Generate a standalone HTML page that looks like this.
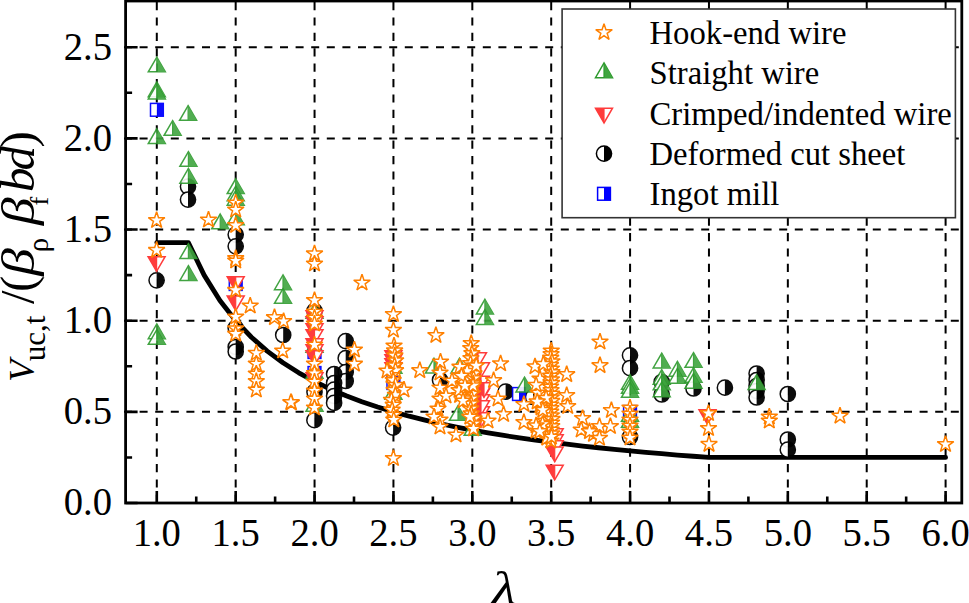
<!DOCTYPE html><html><head><meta charset="utf-8"><style>html,body{margin:0;padding:0;background:#fff;overflow:hidden}svg{display:block}text{font-family:"Liberation Serif",serif}</style></head><body>
<svg width="969" height="603" viewBox="0 0 969 603">
<rect width="969" height="603" fill="#fff"/>
<defs><clipPath id="pc"><rect x="125.6" y="1.0" width="836.2" height="502.0"/></clipPath></defs>
<g stroke="#000" stroke-width="2" fill="none"><line x1="156.80" y1="2" x2="156.80" y2="503.00" stroke-dasharray="8.2 7.2"/><line x1="235.68" y1="2" x2="235.68" y2="503.00" stroke-dasharray="8.2 7.2"/><line x1="314.56" y1="2" x2="314.56" y2="503.00" stroke-dasharray="8.2 7.2"/><line x1="393.44" y1="2" x2="393.44" y2="503.00" stroke-dasharray="8.2 7.2"/><line x1="472.32" y1="2" x2="472.32" y2="503.00" stroke-dasharray="8.2 7.2"/><line x1="551.20" y1="2" x2="551.20" y2="503.00" stroke-dasharray="8.2 7.2"/><line x1="630.08" y1="2" x2="630.08" y2="503.00" stroke-dasharray="8.2 7.2"/><line x1="708.96" y1="2" x2="708.96" y2="503.00" stroke-dasharray="8.2 7.2"/><line x1="787.84" y1="2" x2="787.84" y2="503.00" stroke-dasharray="8.2 7.2"/><line x1="866.72" y1="2" x2="866.72" y2="503.00" stroke-dasharray="8.2 7.2"/><line x1="945.60" y1="2" x2="945.60" y2="503.00" stroke-dasharray="8.2 7.2"/><line x1="124.0" y1="411.85" x2="961.80" y2="411.85" stroke-dasharray="8 7.6"/><line x1="124.0" y1="320.70" x2="961.80" y2="320.70" stroke-dasharray="8 7.6"/><line x1="124.0" y1="229.55" x2="961.80" y2="229.55" stroke-dasharray="8 7.6"/><line x1="124.0" y1="138.40" x2="961.80" y2="138.40" stroke-dasharray="8 7.6"/><line x1="124.0" y1="47.25" x2="961.80" y2="47.25" stroke-dasharray="8 7.6"/></g>
<path d="M156.80,242.57 L188.35,242.57 L204.13,275.12 L219.90,300.44 L235.68,320.70 L251.46,337.27 L267.23,351.08 L283.01,362.77 L298.78,372.79 L314.56,381.47 L330.34,389.06 L346.11,395.76 L361.89,401.72 L377.66,407.05 L393.44,411.85 L409.22,416.19 L424.99,420.14 L440.77,423.74 L456.54,427.04 L472.32,430.08 L488.10,432.88 L503.87,435.48 L519.65,437.89 L535.42,440.14 L551.20,442.23 L566.98,444.19 L582.75,446.03 L598.53,447.76 L614.30,449.38 L630.08,450.91 L645.86,452.36 L661.63,453.73 L677.41,455.03 L693.18,456.26 L708.96,457.43 L708.96,457.43 L945.60,457.43" stroke="#000" stroke-width="4.8" fill="none" stroke-linejoin="round" stroke-linecap="round"/>
<g clip-path="url(#pc)"><g opacity="0.95"><circle cx="188.00" cy="186.60" r="7.6" fill="#fff" stroke="#000" stroke-width="1.5"/><path d="M188.00,179.00A7.6,7.6 0 0 1 188.00,194.20Z" fill="#000"/></g><g opacity="0.95"><circle cx="188.00" cy="199.60" r="7.6" fill="#fff" stroke="#000" stroke-width="1.5"/><path d="M188.00,192.00A7.6,7.6 0 0 1 188.00,207.20Z" fill="#000"/></g><g opacity="0.95"><circle cx="156.60" cy="280.30" r="7.6" fill="#fff" stroke="#000" stroke-width="1.5"/><path d="M156.60,272.70A7.6,7.6 0 0 1 156.60,287.90Z" fill="#000"/></g><g opacity="0.95"><circle cx="235.70" cy="234.60" r="7.6" fill="#fff" stroke="#000" stroke-width="1.5"/><path d="M235.70,227.00A7.6,7.6 0 0 1 235.70,242.20Z" fill="#000"/></g><g opacity="0.95"><circle cx="235.70" cy="246.30" r="7.6" fill="#fff" stroke="#000" stroke-width="1.5"/><path d="M235.70,238.70A7.6,7.6 0 0 1 235.70,253.90Z" fill="#000"/></g><g opacity="0.95"><circle cx="235.70" cy="328.00" r="7.6" fill="#fff" stroke="#000" stroke-width="1.5"/><path d="M235.70,320.40A7.6,7.6 0 0 1 235.70,335.60Z" fill="#000"/></g><g opacity="0.95"><circle cx="235.70" cy="347.00" r="7.6" fill="#fff" stroke="#000" stroke-width="1.5"/><path d="M235.70,339.40A7.6,7.6 0 0 1 235.70,354.60Z" fill="#000"/></g><g opacity="0.95"><circle cx="235.70" cy="351.50" r="7.6" fill="#fff" stroke="#000" stroke-width="1.5"/><path d="M235.70,343.90A7.6,7.6 0 0 1 235.70,359.10Z" fill="#000"/></g><g opacity="0.95"><circle cx="314.50" cy="311.00" r="7.6" fill="#fff" stroke="#000" stroke-width="1.5"/><path d="M314.50,303.40A7.6,7.6 0 0 1 314.50,318.60Z" fill="#000"/></g><g opacity="0.95"><circle cx="314.50" cy="392.00" r="7.6" fill="#fff" stroke="#000" stroke-width="1.5"/><path d="M314.50,384.40A7.6,7.6 0 0 1 314.50,399.60Z" fill="#000"/></g><g opacity="0.95"><circle cx="314.40" cy="420.20" r="7.6" fill="#fff" stroke="#000" stroke-width="1.5"/><path d="M314.40,412.60A7.6,7.6 0 0 1 314.40,427.80Z" fill="#000"/></g><g opacity="0.95"><circle cx="283.20" cy="335.00" r="7.6" fill="#fff" stroke="#000" stroke-width="1.5"/><path d="M283.20,327.40A7.6,7.6 0 0 1 283.20,342.60Z" fill="#000"/></g><g opacity="0.95"><circle cx="345.70" cy="341.10" r="7.6" fill="#fff" stroke="#000" stroke-width="1.5"/><path d="M345.70,333.50A7.6,7.6 0 0 1 345.70,348.70Z" fill="#000"/></g><g opacity="0.95"><circle cx="345.70" cy="358.20" r="7.6" fill="#fff" stroke="#000" stroke-width="1.5"/><path d="M345.70,350.60A7.6,7.6 0 0 1 345.70,365.80Z" fill="#000"/></g><g opacity="0.95"><circle cx="345.70" cy="372.00" r="7.6" fill="#fff" stroke="#000" stroke-width="1.5"/><path d="M345.70,364.40A7.6,7.6 0 0 1 345.70,379.60Z" fill="#000"/></g><g opacity="0.95"><circle cx="345.70" cy="381.00" r="7.6" fill="#fff" stroke="#000" stroke-width="1.5"/><path d="M345.70,373.40A7.6,7.6 0 0 1 345.70,388.60Z" fill="#000"/></g><g opacity="0.95"><circle cx="334.10" cy="374.00" r="7.6" fill="#fff" stroke="#000" stroke-width="1.5"/><path d="M334.10,366.40A7.6,7.6 0 0 1 334.10,381.60Z" fill="#000"/></g><g opacity="0.95"><circle cx="334.10" cy="383.00" r="7.6" fill="#fff" stroke="#000" stroke-width="1.5"/><path d="M334.10,375.40A7.6,7.6 0 0 1 334.10,390.60Z" fill="#000"/></g><g opacity="0.95"><circle cx="334.10" cy="389.60" r="7.6" fill="#fff" stroke="#000" stroke-width="1.5"/><path d="M334.10,382.00A7.6,7.6 0 0 1 334.10,397.20Z" fill="#000"/></g><g opacity="0.95"><circle cx="334.10" cy="396.00" r="7.6" fill="#fff" stroke="#000" stroke-width="1.5"/><path d="M334.10,388.40A7.6,7.6 0 0 1 334.10,403.60Z" fill="#000"/></g><g opacity="0.95"><circle cx="334.10" cy="402.90" r="7.6" fill="#fff" stroke="#000" stroke-width="1.5"/><path d="M334.10,395.30A7.6,7.6 0 0 1 334.10,410.50Z" fill="#000"/></g><g opacity="0.95"><circle cx="393.10" cy="427.60" r="7.6" fill="#fff" stroke="#000" stroke-width="1.5"/><path d="M393.10,420.00A7.6,7.6 0 0 1 393.10,435.20Z" fill="#000"/></g><g opacity="0.95"><circle cx="440.00" cy="380.00" r="7.6" fill="#fff" stroke="#000" stroke-width="1.5"/><path d="M440.00,372.40A7.6,7.6 0 0 1 440.00,387.60Z" fill="#000"/></g><g opacity="0.95"><circle cx="505.60" cy="391.60" r="7.6" fill="#fff" stroke="#000" stroke-width="1.5"/><path d="M505.60,384.00A7.6,7.6 0 0 1 505.60,399.20Z" fill="#000"/></g><g opacity="0.95"><circle cx="533.00" cy="397.00" r="7.6" fill="#fff" stroke="#000" stroke-width="1.5"/><path d="M533.00,389.40A7.6,7.6 0 0 1 533.00,404.60Z" fill="#000"/></g><g opacity="0.95"><circle cx="630.00" cy="355.30" r="7.6" fill="#fff" stroke="#000" stroke-width="1.5"/><path d="M630.00,347.70A7.6,7.6 0 0 1 630.00,362.90Z" fill="#000"/></g><g opacity="0.95"><circle cx="630.00" cy="368.20" r="7.6" fill="#fff" stroke="#000" stroke-width="1.5"/><path d="M630.00,360.60A7.6,7.6 0 0 1 630.00,375.80Z" fill="#000"/></g><g opacity="0.95"><circle cx="661.70" cy="382.00" r="7.6" fill="#fff" stroke="#000" stroke-width="1.5"/><path d="M661.70,374.40A7.6,7.6 0 0 1 661.70,389.60Z" fill="#000"/></g><g opacity="0.95"><circle cx="661.70" cy="394.50" r="7.6" fill="#fff" stroke="#000" stroke-width="1.5"/><path d="M661.70,386.90A7.6,7.6 0 0 1 661.70,402.10Z" fill="#000"/></g><g opacity="0.95"><circle cx="693.50" cy="388.50" r="7.6" fill="#fff" stroke="#000" stroke-width="1.5"/><path d="M693.50,380.90A7.6,7.6 0 0 1 693.50,396.10Z" fill="#000"/></g><g opacity="0.95"><circle cx="724.90" cy="387.70" r="7.6" fill="#fff" stroke="#000" stroke-width="1.5"/><path d="M724.90,380.10A7.6,7.6 0 0 1 724.90,395.30Z" fill="#000"/></g><g opacity="0.95"><circle cx="756.60" cy="373.50" r="7.6" fill="#fff" stroke="#000" stroke-width="1.5"/><path d="M756.60,365.90A7.6,7.6 0 0 1 756.60,381.10Z" fill="#000"/></g><g opacity="0.95"><circle cx="756.60" cy="380.00" r="7.6" fill="#fff" stroke="#000" stroke-width="1.5"/><path d="M756.60,372.40A7.6,7.6 0 0 1 756.60,387.60Z" fill="#000"/></g><g opacity="0.95"><circle cx="756.60" cy="386.00" r="7.6" fill="#fff" stroke="#000" stroke-width="1.5"/><path d="M756.60,378.40A7.6,7.6 0 0 1 756.60,393.60Z" fill="#000"/></g><g opacity="0.95"><circle cx="756.60" cy="391.00" r="7.6" fill="#fff" stroke="#000" stroke-width="1.5"/><path d="M756.60,383.40A7.6,7.6 0 0 1 756.60,398.60Z" fill="#000"/></g><g opacity="0.95"><circle cx="756.60" cy="397.50" r="7.6" fill="#fff" stroke="#000" stroke-width="1.5"/><path d="M756.60,389.90A7.6,7.6 0 0 1 756.60,405.10Z" fill="#000"/></g><g opacity="0.95"><circle cx="787.80" cy="394.00" r="7.6" fill="#fff" stroke="#000" stroke-width="1.5"/><path d="M787.80,386.40A7.6,7.6 0 0 1 787.80,401.60Z" fill="#000"/></g><g opacity="0.95"><circle cx="787.80" cy="439.50" r="7.6" fill="#fff" stroke="#000" stroke-width="1.5"/><path d="M787.80,431.90A7.6,7.6 0 0 1 787.80,447.10Z" fill="#000"/></g><g opacity="0.95"><circle cx="787.80" cy="449.70" r="7.6" fill="#fff" stroke="#000" stroke-width="1.5"/><path d="M787.80,442.10A7.6,7.6 0 0 1 787.80,457.30Z" fill="#000"/></g><g opacity="0.95"><circle cx="630.00" cy="437.00" r="7.6" fill="#fff" stroke="#000" stroke-width="1.5"/><path d="M630.00,429.40A7.6,7.6 0 0 1 630.00,444.60Z" fill="#000"/></g><g opacity="0.95"><rect x="150.50" y="103.40" width="12.8" height="12.8" fill="#fff" stroke="#0000FF" stroke-width="1.5"/><rect x="156.90" y="103.40" width="6.40" height="12.8" fill="#0000FF"/></g><g opacity="0.95"><rect x="229.30" y="277.60" width="12.8" height="12.8" fill="#fff" stroke="#0000FF" stroke-width="1.5"/><rect x="235.70" y="277.60" width="6.40" height="12.8" fill="#0000FF"/></g><g opacity="0.95"><rect x="308.10" y="345.60" width="12.8" height="12.8" fill="#fff" stroke="#0000FF" stroke-width="1.5"/><rect x="314.50" y="345.60" width="6.40" height="12.8" fill="#0000FF"/></g><g opacity="0.95"><rect x="308.10" y="366.60" width="12.8" height="12.8" fill="#fff" stroke="#0000FF" stroke-width="1.5"/><rect x="314.50" y="366.60" width="6.40" height="12.8" fill="#0000FF"/></g><g opacity="0.95"><rect x="387.00" y="376.60" width="12.8" height="12.8" fill="#fff" stroke="#0000FF" stroke-width="1.5"/><rect x="393.40" y="376.60" width="6.40" height="12.8" fill="#0000FF"/></g><g opacity="0.95"><rect x="512.60" y="387.60" width="12.8" height="12.8" fill="#fff" stroke="#0000FF" stroke-width="1.5"/><rect x="519.00" y="387.60" width="6.40" height="12.8" fill="#0000FF"/></g><g opacity="0.95"><rect x="623.60" y="405.60" width="12.8" height="12.8" fill="#fff" stroke="#0000FF" stroke-width="1.5"/><rect x="630.00" y="405.60" width="6.40" height="12.8" fill="#0000FF"/></g><g opacity="0.9"><path d="M156.80,57.15L165.30,71.85L148.30,71.85Z" fill="#fff" stroke="#2E9A2E" stroke-width="1.5"/><path d="M156.80,57.15L165.30,71.85L156.80,71.85Z" fill="#3FA53F"/><path d="M156.80,57.15V71.85" stroke="#2E9A2E" stroke-width="1.2"/></g><g opacity="0.9"><path d="M156.80,81.95L165.30,96.65L148.30,96.65Z" fill="#fff" stroke="#2E9A2E" stroke-width="1.5"/><path d="M156.80,81.95L165.30,96.65L156.80,96.65Z" fill="#3FA53F"/><path d="M156.80,81.95V96.65" stroke="#2E9A2E" stroke-width="1.2"/></g><g opacity="0.9"><path d="M156.80,84.25L165.30,98.95L148.30,98.95Z" fill="#fff" stroke="#2E9A2E" stroke-width="1.5"/><path d="M156.80,84.25L165.30,98.95L156.80,98.95Z" fill="#3FA53F"/><path d="M156.80,84.25V98.95" stroke="#2E9A2E" stroke-width="1.2"/></g><g opacity="0.9"><path d="M188.10,105.65L196.60,120.35L179.60,120.35Z" fill="#fff" stroke="#2E9A2E" stroke-width="1.5"/><path d="M188.10,105.65L196.60,120.35L188.10,120.35Z" fill="#3FA53F"/><path d="M188.10,105.65V120.35" stroke="#2E9A2E" stroke-width="1.2"/></g><g opacity="0.9"><path d="M172.60,120.65L181.10,135.35L164.10,135.35Z" fill="#fff" stroke="#2E9A2E" stroke-width="1.5"/><path d="M172.60,120.65L181.10,135.35L172.60,135.35Z" fill="#3FA53F"/><path d="M172.60,120.65V135.35" stroke="#2E9A2E" stroke-width="1.2"/></g><g opacity="0.9"><path d="M156.80,128.85L165.30,143.55L148.30,143.55Z" fill="#fff" stroke="#2E9A2E" stroke-width="1.5"/><path d="M156.80,128.85L165.30,143.55L156.80,143.55Z" fill="#3FA53F"/><path d="M156.80,128.85V143.55" stroke="#2E9A2E" stroke-width="1.2"/></g><g opacity="0.9"><path d="M188.40,151.65L196.90,166.35L179.90,166.35Z" fill="#fff" stroke="#2E9A2E" stroke-width="1.5"/><path d="M188.40,151.65L196.90,166.35L188.40,166.35Z" fill="#3FA53F"/><path d="M188.40,151.65V166.35" stroke="#2E9A2E" stroke-width="1.2"/></g><g opacity="0.9"><path d="M188.40,168.45L196.90,183.15L179.90,183.15Z" fill="#fff" stroke="#2E9A2E" stroke-width="1.5"/><path d="M188.40,168.45L196.90,183.15L188.40,183.15Z" fill="#3FA53F"/><path d="M188.40,168.45V183.15" stroke="#2E9A2E" stroke-width="1.2"/></g><g opacity="0.9"><path d="M220.20,214.05L228.70,228.75L211.70,228.75Z" fill="#fff" stroke="#2E9A2E" stroke-width="1.5"/><path d="M220.20,214.05L228.70,228.75L220.20,228.75Z" fill="#3FA53F"/><path d="M220.20,214.05V228.75" stroke="#2E9A2E" stroke-width="1.2"/></g><g opacity="0.9"><path d="M188.40,243.75L196.90,258.45L179.90,258.45Z" fill="#fff" stroke="#2E9A2E" stroke-width="1.5"/><path d="M188.40,243.75L196.90,258.45L188.40,258.45Z" fill="#3FA53F"/><path d="M188.40,243.75V258.45" stroke="#2E9A2E" stroke-width="1.2"/></g><g opacity="0.9"><path d="M188.40,265.75L196.90,280.45L179.90,280.45Z" fill="#fff" stroke="#2E9A2E" stroke-width="1.5"/><path d="M188.40,265.75L196.90,280.45L188.40,280.45Z" fill="#3FA53F"/><path d="M188.40,265.75V280.45" stroke="#2E9A2E" stroke-width="1.2"/></g><g opacity="0.9"><path d="M156.80,323.95L165.30,338.65L148.30,338.65Z" fill="#fff" stroke="#2E9A2E" stroke-width="1.5"/><path d="M156.80,323.95L165.30,338.65L156.80,338.65Z" fill="#3FA53F"/><path d="M156.80,323.95V338.65" stroke="#2E9A2E" stroke-width="1.2"/></g><g opacity="0.9"><path d="M156.80,329.65L165.30,344.35L148.30,344.35Z" fill="#fff" stroke="#2E9A2E" stroke-width="1.5"/><path d="M156.80,329.65L165.30,344.35L156.80,344.35Z" fill="#3FA53F"/><path d="M156.80,329.65V344.35" stroke="#2E9A2E" stroke-width="1.2"/></g><g opacity="0.9"><path d="M235.70,178.85L244.20,193.55L227.20,193.55Z" fill="#fff" stroke="#2E9A2E" stroke-width="1.5"/><path d="M235.70,178.85L244.20,193.55L235.70,193.55Z" fill="#3FA53F"/><path d="M235.70,178.85V193.55" stroke="#2E9A2E" stroke-width="1.2"/></g><g opacity="0.9"><path d="M235.70,186.15L244.20,200.85L227.20,200.85Z" fill="#fff" stroke="#2E9A2E" stroke-width="1.5"/><path d="M235.70,186.15L244.20,200.85L235.70,200.85Z" fill="#3FA53F"/><path d="M235.70,186.15V200.85" stroke="#2E9A2E" stroke-width="1.2"/></g><g opacity="0.9"><path d="M235.70,190.45L244.20,205.15L227.20,205.15Z" fill="#fff" stroke="#2E9A2E" stroke-width="1.5"/><path d="M235.70,190.45L244.20,205.15L235.70,205.15Z" fill="#3FA53F"/><path d="M235.70,190.45V205.15" stroke="#2E9A2E" stroke-width="1.2"/></g><g opacity="0.9"><path d="M235.70,210.15L244.20,224.85L227.20,224.85Z" fill="#fff" stroke="#2E9A2E" stroke-width="1.5"/><path d="M235.70,210.15L244.20,224.85L235.70,224.85Z" fill="#3FA53F"/><path d="M235.70,210.15V224.85" stroke="#2E9A2E" stroke-width="1.2"/></g><g opacity="0.9"><path d="M283.00,274.95L291.50,289.65L274.50,289.65Z" fill="#fff" stroke="#2E9A2E" stroke-width="1.5"/><path d="M283.00,274.95L291.50,289.65L283.00,289.65Z" fill="#3FA53F"/><path d="M283.00,274.95V289.65" stroke="#2E9A2E" stroke-width="1.2"/></g><g opacity="0.9"><path d="M283.00,288.65L291.50,303.35L274.50,303.35Z" fill="#fff" stroke="#2E9A2E" stroke-width="1.5"/><path d="M283.00,288.65L291.50,303.35L283.00,303.35Z" fill="#3FA53F"/><path d="M283.00,288.65V303.35" stroke="#2E9A2E" stroke-width="1.2"/></g><g opacity="0.9"><path d="M314.50,303.65L323.00,318.35L306.00,318.35Z" fill="#fff" stroke="#2E9A2E" stroke-width="1.5"/><path d="M314.50,303.65L323.00,318.35L314.50,318.35Z" fill="#3FA53F"/><path d="M314.50,303.65V318.35" stroke="#2E9A2E" stroke-width="1.2"/></g><g opacity="0.9"><path d="M314.50,337.65L323.00,352.35L306.00,352.35Z" fill="#fff" stroke="#2E9A2E" stroke-width="1.5"/><path d="M314.50,337.65L323.00,352.35L314.50,352.35Z" fill="#3FA53F"/><path d="M314.50,337.65V352.35" stroke="#2E9A2E" stroke-width="1.2"/></g><g opacity="0.9"><path d="M314.50,363.65L323.00,378.35L306.00,378.35Z" fill="#fff" stroke="#2E9A2E" stroke-width="1.5"/><path d="M314.50,363.65L323.00,378.35L314.50,378.35Z" fill="#3FA53F"/><path d="M314.50,363.65V378.35" stroke="#2E9A2E" stroke-width="1.2"/></g><g opacity="0.9"><path d="M314.50,396.65L323.00,411.35L306.00,411.35Z" fill="#fff" stroke="#2E9A2E" stroke-width="1.5"/><path d="M314.50,396.65L323.00,411.35L314.50,411.35Z" fill="#3FA53F"/><path d="M314.50,396.65V411.35" stroke="#2E9A2E" stroke-width="1.2"/></g><g opacity="0.9"><path d="M393.40,358.65L401.90,373.35L384.90,373.35Z" fill="#fff" stroke="#2E9A2E" stroke-width="1.5"/><path d="M393.40,358.65L401.90,373.35L393.40,373.35Z" fill="#3FA53F"/><path d="M393.40,358.65V373.35" stroke="#2E9A2E" stroke-width="1.2"/></g><g opacity="0.9"><path d="M393.40,384.65L401.90,399.35L384.90,399.35Z" fill="#fff" stroke="#2E9A2E" stroke-width="1.5"/><path d="M393.40,384.65L401.90,399.35L393.40,399.35Z" fill="#3FA53F"/><path d="M393.40,384.65V399.35" stroke="#2E9A2E" stroke-width="1.2"/></g><g opacity="0.9"><path d="M434.00,358.35L442.50,373.05L425.50,373.05Z" fill="#fff" stroke="#2E9A2E" stroke-width="1.5"/><path d="M434.00,358.35L442.50,373.05L434.00,373.05Z" fill="#3FA53F"/><path d="M434.00,358.35V373.05" stroke="#2E9A2E" stroke-width="1.2"/></g><g opacity="0.9"><path d="M459.50,358.35L468.00,373.05L451.00,373.05Z" fill="#fff" stroke="#2E9A2E" stroke-width="1.5"/><path d="M459.50,358.35L468.00,373.05L459.50,373.05Z" fill="#3FA53F"/><path d="M459.50,358.35V373.05" stroke="#2E9A2E" stroke-width="1.2"/></g><g opacity="0.9"><path d="M484.90,299.35L493.40,314.05L476.40,314.05Z" fill="#fff" stroke="#2E9A2E" stroke-width="1.5"/><path d="M484.90,299.35L493.40,314.05L484.90,314.05Z" fill="#3FA53F"/><path d="M484.90,299.35V314.05" stroke="#2E9A2E" stroke-width="1.2"/></g><g opacity="0.9"><path d="M484.90,309.75L493.40,324.45L476.40,324.45Z" fill="#fff" stroke="#2E9A2E" stroke-width="1.5"/><path d="M484.90,309.75L493.40,324.45L484.90,324.45Z" fill="#3FA53F"/><path d="M484.90,309.75V324.45" stroke="#2E9A2E" stroke-width="1.2"/></g><g opacity="0.9"><path d="M458.00,405.65L466.50,420.35L449.50,420.35Z" fill="#fff" stroke="#2E9A2E" stroke-width="1.5"/><path d="M458.00,405.65L466.50,420.35L458.00,420.35Z" fill="#3FA53F"/><path d="M458.00,405.65V420.35" stroke="#2E9A2E" stroke-width="1.2"/></g><g opacity="0.9"><path d="M472.70,420.65L481.20,435.35L464.20,435.35Z" fill="#fff" stroke="#2E9A2E" stroke-width="1.5"/><path d="M472.70,420.65L481.20,435.35L472.70,435.35Z" fill="#3FA53F"/><path d="M472.70,420.65V435.35" stroke="#2E9A2E" stroke-width="1.2"/></g><g opacity="0.9"><path d="M524.50,377.25L533.00,391.95L516.00,391.95Z" fill="#fff" stroke="#2E9A2E" stroke-width="1.5"/><path d="M524.50,377.25L533.00,391.95L524.50,391.95Z" fill="#3FA53F"/><path d="M524.50,377.25V391.95" stroke="#2E9A2E" stroke-width="1.2"/></g><g opacity="0.9"><path d="M630.00,374.65L638.50,389.35L621.50,389.35Z" fill="#fff" stroke="#2E9A2E" stroke-width="1.5"/><path d="M630.00,374.65L638.50,389.35L630.00,389.35Z" fill="#3FA53F"/><path d="M630.00,374.65V389.35" stroke="#2E9A2E" stroke-width="1.2"/></g><g opacity="0.9"><path d="M630.00,378.65L638.50,393.35L621.50,393.35Z" fill="#fff" stroke="#2E9A2E" stroke-width="1.5"/><path d="M630.00,378.65L638.50,393.35L630.00,393.35Z" fill="#3FA53F"/><path d="M630.00,378.65V393.35" stroke="#2E9A2E" stroke-width="1.2"/></g><g opacity="0.9"><path d="M630.00,382.65L638.50,397.35L621.50,397.35Z" fill="#fff" stroke="#2E9A2E" stroke-width="1.5"/><path d="M630.00,382.65L638.50,397.35L630.00,397.35Z" fill="#3FA53F"/><path d="M630.00,382.65V397.35" stroke="#2E9A2E" stroke-width="1.2"/></g><g opacity="0.9"><path d="M630.00,406.65L638.50,421.35L621.50,421.35Z" fill="#fff" stroke="#2E9A2E" stroke-width="1.5"/><path d="M630.00,406.65L638.50,421.35L630.00,421.35Z" fill="#3FA53F"/><path d="M630.00,406.65V421.35" stroke="#2E9A2E" stroke-width="1.2"/></g><g opacity="0.9"><path d="M630.00,412.65L638.50,427.35L621.50,427.35Z" fill="#fff" stroke="#2E9A2E" stroke-width="1.5"/><path d="M630.00,412.65L638.50,427.35L630.00,427.35Z" fill="#3FA53F"/><path d="M630.00,412.65V427.35" stroke="#2E9A2E" stroke-width="1.2"/></g><g opacity="0.9"><path d="M661.70,353.25L670.20,367.95L653.20,367.95Z" fill="#fff" stroke="#2E9A2E" stroke-width="1.5"/><path d="M661.70,353.25L670.20,367.95L661.70,367.95Z" fill="#3FA53F"/><path d="M661.70,353.25V367.95" stroke="#2E9A2E" stroke-width="1.2"/></g><g opacity="0.9"><path d="M661.70,369.65L670.20,384.35L653.20,384.35Z" fill="#fff" stroke="#2E9A2E" stroke-width="1.5"/><path d="M661.70,369.65L670.20,384.35L661.70,384.35Z" fill="#3FA53F"/><path d="M661.70,369.65V384.35" stroke="#2E9A2E" stroke-width="1.2"/></g><g opacity="0.9"><path d="M661.70,375.15L670.20,389.85L653.20,389.85Z" fill="#fff" stroke="#2E9A2E" stroke-width="1.5"/><path d="M661.70,375.15L670.20,389.85L661.70,389.85Z" fill="#3FA53F"/><path d="M661.70,375.15V389.85" stroke="#2E9A2E" stroke-width="1.2"/></g><g opacity="0.9"><path d="M661.70,382.15L670.20,396.85L653.20,396.85Z" fill="#fff" stroke="#2E9A2E" stroke-width="1.5"/><path d="M661.70,382.15L670.20,396.85L661.70,396.85Z" fill="#3FA53F"/><path d="M661.70,382.15V396.85" stroke="#2E9A2E" stroke-width="1.2"/></g><g opacity="0.9"><path d="M677.40,361.45L685.90,376.15L668.90,376.15Z" fill="#fff" stroke="#2E9A2E" stroke-width="1.5"/><path d="M677.40,361.45L685.90,376.15L677.40,376.15Z" fill="#3FA53F"/><path d="M677.40,361.45V376.15" stroke="#2E9A2E" stroke-width="1.2"/></g><g opacity="0.9"><path d="M677.40,368.45L685.90,383.15L668.90,383.15Z" fill="#fff" stroke="#2E9A2E" stroke-width="1.5"/><path d="M677.40,368.45L685.90,383.15L677.40,383.15Z" fill="#3FA53F"/><path d="M677.40,368.45V383.15" stroke="#2E9A2E" stroke-width="1.2"/></g><g opacity="0.9"><path d="M693.50,352.65L702.00,367.35L685.00,367.35Z" fill="#fff" stroke="#2E9A2E" stroke-width="1.5"/><path d="M693.50,352.65L702.00,367.35L693.50,367.35Z" fill="#3FA53F"/><path d="M693.50,352.65V367.35" stroke="#2E9A2E" stroke-width="1.2"/></g><g opacity="0.9"><path d="M693.50,367.65L702.00,382.35L685.00,382.35Z" fill="#fff" stroke="#2E9A2E" stroke-width="1.5"/><path d="M693.50,367.65L702.00,382.35L693.50,382.35Z" fill="#3FA53F"/><path d="M693.50,367.65V382.35" stroke="#2E9A2E" stroke-width="1.2"/></g><g opacity="0.9"><path d="M693.50,373.65L702.00,388.35L685.00,388.35Z" fill="#fff" stroke="#2E9A2E" stroke-width="1.5"/><path d="M693.50,373.65L702.00,388.35L693.50,388.35Z" fill="#3FA53F"/><path d="M693.50,373.65V388.35" stroke="#2E9A2E" stroke-width="1.2"/></g><g opacity="0.9"><path d="M756.60,374.75L765.10,389.45L748.10,389.45Z" fill="#fff" stroke="#2E9A2E" stroke-width="1.5"/><path d="M756.60,374.75L765.10,389.45L756.60,389.45Z" fill="#3FA53F"/><path d="M756.60,374.75V389.45" stroke="#2E9A2E" stroke-width="1.2"/></g><g opacity="1"><path d="M156.60,271.35L148.10,256.65L165.10,256.65Z" fill="#fff" stroke="#FF3C3C" stroke-width="1.5"/><path d="M156.60,271.35L148.10,256.65L156.60,256.65Z" fill="#FF3C3C"/><path d="M156.60,256.65V271.35" stroke="#FF3C3C" stroke-width="1.2"/></g><g opacity="1"><path d="M235.70,291.35L227.20,276.65L244.20,276.65Z" fill="#fff" stroke="#FF3C3C" stroke-width="1.5"/><path d="M235.70,291.35L227.20,276.65L235.70,276.65Z" fill="#FF3C3C"/><path d="M235.70,276.65V291.35" stroke="#FF3C3C" stroke-width="1.2"/></g><g opacity="1"><path d="M235.70,310.65L227.20,295.95L244.20,295.95Z" fill="#fff" stroke="#FF3C3C" stroke-width="1.5"/><path d="M235.70,310.65L227.20,295.95L235.70,295.95Z" fill="#FF3C3C"/><path d="M235.70,295.95V310.65" stroke="#FF3C3C" stroke-width="1.2"/></g><g opacity="1"><path d="M314.50,325.35L306.00,310.65L323.00,310.65Z" fill="#fff" stroke="#FF3C3C" stroke-width="1.5"/><path d="M314.50,325.35L306.00,310.65L314.50,310.65Z" fill="#FF3C3C"/><path d="M314.50,310.65V325.35" stroke="#FF3C3C" stroke-width="1.2"/></g><g opacity="1"><path d="M314.50,331.35L306.00,316.65L323.00,316.65Z" fill="#fff" stroke="#FF3C3C" stroke-width="1.5"/><path d="M314.50,331.35L306.00,316.65L314.50,316.65Z" fill="#FF3C3C"/><path d="M314.50,316.65V331.35" stroke="#FF3C3C" stroke-width="1.2"/></g><g opacity="1"><path d="M314.50,338.35L306.00,323.65L323.00,323.65Z" fill="#fff" stroke="#FF3C3C" stroke-width="1.5"/><path d="M314.50,338.35L306.00,323.65L314.50,323.65Z" fill="#FF3C3C"/><path d="M314.50,323.65V338.35" stroke="#FF3C3C" stroke-width="1.2"/></g><g opacity="1"><path d="M314.50,344.35L306.00,329.65L323.00,329.65Z" fill="#fff" stroke="#FF3C3C" stroke-width="1.5"/><path d="M314.50,344.35L306.00,329.65L314.50,329.65Z" fill="#FF3C3C"/><path d="M314.50,329.65V344.35" stroke="#FF3C3C" stroke-width="1.2"/></g><g opacity="1"><path d="M314.50,353.35L306.00,338.65L323.00,338.65Z" fill="#fff" stroke="#FF3C3C" stroke-width="1.5"/><path d="M314.50,353.35L306.00,338.65L314.50,338.65Z" fill="#FF3C3C"/><path d="M314.50,338.65V353.35" stroke="#FF3C3C" stroke-width="1.2"/></g><g opacity="1"><path d="M314.50,359.35L306.00,344.65L323.00,344.65Z" fill="#fff" stroke="#FF3C3C" stroke-width="1.5"/><path d="M314.50,359.35L306.00,344.65L314.50,344.65Z" fill="#FF3C3C"/><path d="M314.50,344.65V359.35" stroke="#FF3C3C" stroke-width="1.2"/></g><g opacity="1"><path d="M314.50,365.35L306.00,350.65L323.00,350.65Z" fill="#fff" stroke="#FF3C3C" stroke-width="1.5"/><path d="M314.50,365.35L306.00,350.65L314.50,350.65Z" fill="#FF3C3C"/><path d="M314.50,350.65V365.35" stroke="#FF3C3C" stroke-width="1.2"/></g><g opacity="1"><path d="M314.50,387.35L306.00,372.65L323.00,372.65Z" fill="#fff" stroke="#FF3C3C" stroke-width="1.5"/><path d="M314.50,387.35L306.00,372.65L314.50,372.65Z" fill="#FF3C3C"/><path d="M314.50,372.65V387.35" stroke="#FF3C3C" stroke-width="1.2"/></g><g opacity="1"><path d="M393.40,369.35L384.90,354.65L401.90,354.65Z" fill="#fff" stroke="#FF3C3C" stroke-width="1.5"/><path d="M393.40,369.35L384.90,354.65L393.40,354.65Z" fill="#FF3C3C"/><path d="M393.40,354.65V369.35" stroke="#FF3C3C" stroke-width="1.2"/></g><g opacity="1"><path d="M393.40,377.35L384.90,362.65L401.90,362.65Z" fill="#fff" stroke="#FF3C3C" stroke-width="1.5"/><path d="M393.40,377.35L384.90,362.65L393.40,362.65Z" fill="#FF3C3C"/><path d="M393.40,362.65V377.35" stroke="#FF3C3C" stroke-width="1.2"/></g><g opacity="1"><path d="M393.40,365.35L384.90,350.65L401.90,350.65Z" fill="#fff" stroke="#FF3C3C" stroke-width="1.5"/><path d="M393.40,365.35L384.90,350.65L393.40,350.65Z" fill="#FF3C3C"/><path d="M393.40,350.65V365.35" stroke="#FF3C3C" stroke-width="1.2"/></g><g opacity="1"><path d="M393.40,373.35L384.90,358.65L401.90,358.65Z" fill="#fff" stroke="#FF3C3C" stroke-width="1.5"/><path d="M393.40,373.35L384.90,358.65L393.40,358.65Z" fill="#FF3C3C"/><path d="M393.40,358.65V373.35" stroke="#FF3C3C" stroke-width="1.2"/></g><g opacity="1"><path d="M481.00,377.35L472.50,362.65L489.50,362.65Z" fill="#fff" stroke="#FF3C3C" stroke-width="1.5"/><path d="M481.00,377.35L472.50,362.65L481.00,362.65Z" fill="#FF3C3C"/><path d="M481.00,362.65V377.35" stroke="#FF3C3C" stroke-width="1.2"/></g><g opacity="1"><path d="M481.00,403.35L472.50,388.65L489.50,388.65Z" fill="#fff" stroke="#FF3C3C" stroke-width="1.5"/><path d="M481.00,403.35L472.50,388.65L481.00,388.65Z" fill="#FF3C3C"/><path d="M481.00,388.65V403.35" stroke="#FF3C3C" stroke-width="1.2"/></g><g opacity="1"><path d="M481.00,409.35L472.50,394.65L489.50,394.65Z" fill="#fff" stroke="#FF3C3C" stroke-width="1.5"/><path d="M481.00,409.35L472.50,394.65L481.00,394.65Z" fill="#FF3C3C"/><path d="M481.00,394.65V409.35" stroke="#FF3C3C" stroke-width="1.2"/></g><g opacity="1"><path d="M481.00,421.35L472.50,406.65L489.50,406.65Z" fill="#fff" stroke="#FF3C3C" stroke-width="1.5"/><path d="M481.00,421.35L472.50,406.65L481.00,406.65Z" fill="#FF3C3C"/><path d="M481.00,406.65V421.35" stroke="#FF3C3C" stroke-width="1.2"/></g><g opacity="1"><path d="M478.00,367.35L469.50,352.65L486.50,352.65Z" fill="#fff" stroke="#FF3C3C" stroke-width="1.5"/><path d="M478.00,367.35L469.50,352.65L478.00,352.65Z" fill="#FF3C3C"/><path d="M478.00,352.65V367.35" stroke="#FF3C3C" stroke-width="1.2"/></g><g opacity="1"><path d="M481.00,391.05L472.50,376.35L489.50,376.35Z" fill="#fff" stroke="#FF3C3C" stroke-width="1.5"/><path d="M481.00,391.05L472.50,376.35L481.00,376.35Z" fill="#FF3C3C"/><path d="M481.00,376.35V391.05" stroke="#FF3C3C" stroke-width="1.2"/></g><g opacity="1"><path d="M481.00,415.35L472.50,400.65L489.50,400.65Z" fill="#fff" stroke="#FF3C3C" stroke-width="1.5"/><path d="M481.00,415.35L472.50,400.65L481.00,400.65Z" fill="#FF3C3C"/><path d="M481.00,400.65V415.35" stroke="#FF3C3C" stroke-width="1.2"/></g><g opacity="1"><path d="M481.00,427.35L472.50,412.65L489.50,412.65Z" fill="#fff" stroke="#FF3C3C" stroke-width="1.5"/><path d="M481.00,427.35L472.50,412.65L481.00,412.65Z" fill="#FF3C3C"/><path d="M481.00,412.65V427.35" stroke="#FF3C3C" stroke-width="1.2"/></g><g opacity="1"><path d="M484.00,397.35L475.50,382.65L492.50,382.65Z" fill="#fff" stroke="#FF3C3C" stroke-width="1.5"/><path d="M484.00,397.35L475.50,382.65L484.00,382.65Z" fill="#FF3C3C"/><path d="M484.00,382.65V397.35" stroke="#FF3C3C" stroke-width="1.2"/></g><g opacity="1"><path d="M554.70,443.35L546.20,428.65L563.20,428.65Z" fill="#fff" stroke="#FF3C3C" stroke-width="1.5"/><path d="M554.70,443.35L546.20,428.65L554.70,428.65Z" fill="#FF3C3C"/><path d="M554.70,428.65V443.35" stroke="#FF3C3C" stroke-width="1.2"/></g><g opacity="1"><path d="M554.70,449.35L546.20,434.65L563.20,434.65Z" fill="#fff" stroke="#FF3C3C" stroke-width="1.5"/><path d="M554.70,449.35L546.20,434.65L554.70,434.65Z" fill="#FF3C3C"/><path d="M554.70,434.65V449.35" stroke="#FF3C3C" stroke-width="1.2"/></g><g opacity="1"><path d="M554.70,455.35L546.20,440.65L563.20,440.65Z" fill="#fff" stroke="#FF3C3C" stroke-width="1.5"/><path d="M554.70,455.35L546.20,440.65L554.70,440.65Z" fill="#FF3C3C"/><path d="M554.70,440.65V455.35" stroke="#FF3C3C" stroke-width="1.2"/></g><g opacity="1"><path d="M554.70,461.65L546.20,446.95L563.20,446.95Z" fill="#fff" stroke="#FF3C3C" stroke-width="1.5"/><path d="M554.70,461.65L546.20,446.95L554.70,446.95Z" fill="#FF3C3C"/><path d="M554.70,446.95V461.65" stroke="#FF3C3C" stroke-width="1.2"/></g><g opacity="1"><path d="M554.70,479.85L546.20,465.15L563.20,465.15Z" fill="#fff" stroke="#FF3C3C" stroke-width="1.5"/><path d="M554.70,479.85L546.20,465.15L554.70,465.15Z" fill="#FF3C3C"/><path d="M554.70,465.15V479.85" stroke="#FF3C3C" stroke-width="1.2"/></g><g opacity="1"><path d="M707.50,424.35L699.00,409.65L716.00,409.65Z" fill="#fff" stroke="#FF3C3C" stroke-width="1.5"/><path d="M707.50,424.35L699.00,409.65L707.50,409.65Z" fill="#FF3C3C"/><path d="M707.50,409.65V424.35" stroke="#FF3C3C" stroke-width="1.2"/></g><polygon points="156.60,211.63 158.55,217.64 164.87,217.64 159.76,221.36 161.71,227.37 156.60,223.65 151.49,227.37 153.44,221.36 148.33,217.64 154.65,217.64" fill="#fff" stroke="#FF8000" stroke-width="1.5" stroke-linejoin="miter" stroke-miterlimit="3"/><polygon points="208.50,211.23 210.45,217.24 216.77,217.24 211.66,220.96 213.61,226.97 208.50,223.25 203.39,226.97 205.34,220.96 200.23,217.24 206.55,217.24" fill="#fff" stroke="#FF8000" stroke-width="1.5" stroke-linejoin="miter" stroke-miterlimit="3"/><polygon points="156.60,241.53 158.55,247.54 164.87,247.54 159.76,251.26 161.71,257.27 156.60,253.55 151.49,257.27 153.44,251.26 148.33,247.54 154.65,247.54" fill="#fff" stroke="#FF8000" stroke-width="1.5" stroke-linejoin="miter" stroke-miterlimit="3"/><polygon points="235.70,194.13 237.65,200.14 243.97,200.14 238.86,203.86 240.81,209.87 235.70,206.15 230.59,209.87 232.54,203.86 227.43,200.14 233.75,200.14" fill="#fff" stroke="#FF8000" stroke-width="1.5" stroke-linejoin="miter" stroke-miterlimit="3"/><polygon points="235.70,201.13 237.65,207.14 243.97,207.14 238.86,210.86 240.81,216.87 235.70,213.15 230.59,216.87 232.54,210.86 227.43,207.14 233.75,207.14" fill="#fff" stroke="#FF8000" stroke-width="1.5" stroke-linejoin="miter" stroke-miterlimit="3"/><polygon points="235.70,216.73 237.65,222.74 243.97,222.74 238.86,226.46 240.81,232.47 235.70,228.75 230.59,232.47 232.54,226.46 227.43,222.74 233.75,222.74" fill="#fff" stroke="#FF8000" stroke-width="1.5" stroke-linejoin="miter" stroke-miterlimit="3"/><polygon points="235.70,249.63 237.65,255.64 243.97,255.64 238.86,259.36 240.81,265.37 235.70,261.65 230.59,265.37 232.54,259.36 227.43,255.64 233.75,255.64" fill="#fff" stroke="#FF8000" stroke-width="1.5" stroke-linejoin="miter" stroke-miterlimit="3"/><polygon points="235.70,252.13 237.65,258.14 243.97,258.14 238.86,261.86 240.81,267.87 235.70,264.15 230.59,267.87 232.54,261.86 227.43,258.14 233.75,258.14" fill="#fff" stroke="#FF8000" stroke-width="1.5" stroke-linejoin="miter" stroke-miterlimit="3"/><polygon points="235.70,281.53 237.65,287.54 243.97,287.54 238.86,291.26 240.81,297.27 235.70,293.55 230.59,297.27 232.54,291.26 227.43,287.54 233.75,287.54" fill="#fff" stroke="#FF8000" stroke-width="1.5" stroke-linejoin="miter" stroke-miterlimit="3"/><polygon points="250.20,297.13 252.15,303.14 258.47,303.14 253.36,306.86 255.31,312.87 250.20,309.15 245.09,312.87 247.04,306.86 241.93,303.14 248.25,303.14" fill="#fff" stroke="#FF8000" stroke-width="1.5" stroke-linejoin="miter" stroke-miterlimit="3"/><polygon points="235.70,308.13 237.65,314.14 243.97,314.14 238.86,317.86 240.81,323.87 235.70,320.15 230.59,323.87 232.54,317.86 227.43,314.14 233.75,314.14" fill="#fff" stroke="#FF8000" stroke-width="1.5" stroke-linejoin="miter" stroke-miterlimit="3"/><polygon points="235.70,319.93 237.65,325.94 243.97,325.94 238.86,329.66 240.81,335.67 235.70,331.95 230.59,335.67 232.54,329.66 227.43,325.94 233.75,325.94" fill="#fff" stroke="#FF8000" stroke-width="1.5" stroke-linejoin="miter" stroke-miterlimit="3"/><polygon points="235.70,325.33 237.65,331.34 243.97,331.34 238.86,335.06 240.81,341.07 235.70,337.35 230.59,341.07 232.54,335.06 227.43,331.34 233.75,331.34" fill="#fff" stroke="#FF8000" stroke-width="1.5" stroke-linejoin="miter" stroke-miterlimit="3"/><polygon points="256.30,344.43 258.25,350.44 264.57,350.44 259.46,354.16 261.41,360.17 256.30,356.45 251.19,360.17 253.14,354.16 248.03,350.44 254.35,350.44" fill="#fff" stroke="#FF8000" stroke-width="1.5" stroke-linejoin="miter" stroke-miterlimit="3"/><polygon points="256.30,355.13 258.25,361.14 264.57,361.14 259.46,364.86 261.41,370.87 256.30,367.15 251.19,370.87 253.14,364.86 248.03,361.14 254.35,361.14" fill="#fff" stroke="#FF8000" stroke-width="1.5" stroke-linejoin="miter" stroke-miterlimit="3"/><polygon points="256.30,365.13 258.25,371.14 264.57,371.14 259.46,374.86 261.41,380.87 256.30,377.15 251.19,380.87 253.14,374.86 248.03,371.14 254.35,371.14" fill="#fff" stroke="#FF8000" stroke-width="1.5" stroke-linejoin="miter" stroke-miterlimit="3"/><polygon points="256.30,372.63 258.25,378.64 264.57,378.64 259.46,382.36 261.41,388.37 256.30,384.65 251.19,388.37 253.14,382.36 248.03,378.64 254.35,378.64" fill="#fff" stroke="#FF8000" stroke-width="1.5" stroke-linejoin="miter" stroke-miterlimit="3"/><polygon points="256.30,381.13 258.25,387.14 264.57,387.14 259.46,390.86 261.41,396.87 256.30,393.15 251.19,396.87 253.14,390.86 248.03,387.14 254.35,387.14" fill="#fff" stroke="#FF8000" stroke-width="1.5" stroke-linejoin="miter" stroke-miterlimit="3"/><polygon points="291.30,394.03 293.25,400.04 299.57,400.04 294.46,403.76 296.41,409.77 291.30,406.05 286.19,409.77 288.14,403.76 283.03,400.04 289.35,400.04" fill="#fff" stroke="#FF8000" stroke-width="1.5" stroke-linejoin="miter" stroke-miterlimit="3"/><polygon points="314.50,245.03 316.45,251.04 322.77,251.04 317.66,254.76 319.61,260.77 314.50,257.05 309.39,260.77 311.34,254.76 306.23,251.04 312.55,251.04" fill="#fff" stroke="#FF8000" stroke-width="1.5" stroke-linejoin="miter" stroke-miterlimit="3"/><polygon points="314.50,255.23 316.45,261.24 322.77,261.24 317.66,264.96 319.61,270.97 314.50,267.25 309.39,270.97 311.34,264.96 306.23,261.24 312.55,261.24" fill="#fff" stroke="#FF8000" stroke-width="1.5" stroke-linejoin="miter" stroke-miterlimit="3"/><polygon points="314.50,291.63 316.45,297.64 322.77,297.64 317.66,301.36 319.61,307.37 314.50,303.65 309.39,307.37 311.34,301.36 306.23,297.64 312.55,297.64" fill="#fff" stroke="#FF8000" stroke-width="1.5" stroke-linejoin="miter" stroke-miterlimit="3"/><polygon points="314.50,303.13 316.45,309.14 322.77,309.14 317.66,312.86 319.61,318.87 314.50,315.15 309.39,318.87 311.34,312.86 306.23,309.14 312.55,309.14" fill="#fff" stroke="#FF8000" stroke-width="1.5" stroke-linejoin="miter" stroke-miterlimit="3"/><polygon points="314.50,309.13 316.45,315.14 322.77,315.14 317.66,318.86 319.61,324.87 314.50,321.15 309.39,324.87 311.34,318.86 306.23,315.14 312.55,315.14" fill="#fff" stroke="#FF8000" stroke-width="1.5" stroke-linejoin="miter" stroke-miterlimit="3"/><polygon points="314.50,315.13 316.45,321.14 322.77,321.14 317.66,324.86 319.61,330.87 314.50,327.15 309.39,330.87 311.34,324.86 306.23,321.14 312.55,321.14" fill="#fff" stroke="#FF8000" stroke-width="1.5" stroke-linejoin="miter" stroke-miterlimit="3"/><polygon points="314.50,336.13 316.45,342.14 322.77,342.14 317.66,345.86 319.61,351.87 314.50,348.15 309.39,351.87 311.34,345.86 306.23,342.14 312.55,342.14" fill="#fff" stroke="#FF8000" stroke-width="1.5" stroke-linejoin="miter" stroke-miterlimit="3"/><polygon points="314.50,355.13 316.45,361.14 322.77,361.14 317.66,364.86 319.61,370.87 314.50,367.15 309.39,370.87 311.34,364.86 306.23,361.14 312.55,361.14" fill="#fff" stroke="#FF8000" stroke-width="1.5" stroke-linejoin="miter" stroke-miterlimit="3"/><polygon points="314.50,364.63 316.45,370.64 322.77,370.64 317.66,374.36 319.61,380.37 314.50,376.65 309.39,380.37 311.34,374.36 306.23,370.64 312.55,370.64" fill="#fff" stroke="#FF8000" stroke-width="1.5" stroke-linejoin="miter" stroke-miterlimit="3"/><polygon points="314.50,373.13 316.45,379.14 322.77,379.14 317.66,382.86 319.61,388.87 314.50,385.15 309.39,388.87 311.34,382.86 306.23,379.14 312.55,379.14" fill="#fff" stroke="#FF8000" stroke-width="1.5" stroke-linejoin="miter" stroke-miterlimit="3"/><polygon points="314.50,382.13 316.45,388.14 322.77,388.14 317.66,391.86 319.61,397.87 314.50,394.15 309.39,397.87 311.34,391.86 306.23,388.14 312.55,388.14" fill="#fff" stroke="#FF8000" stroke-width="1.5" stroke-linejoin="miter" stroke-miterlimit="3"/><polygon points="314.50,390.13 316.45,396.14 322.77,396.14 317.66,399.86 319.61,405.87 314.50,402.15 309.39,405.87 311.34,399.86 306.23,396.14 312.55,396.14" fill="#fff" stroke="#FF8000" stroke-width="1.5" stroke-linejoin="miter" stroke-miterlimit="3"/><polygon points="314.50,399.13 316.45,405.14 322.77,405.14 317.66,408.86 319.61,414.87 314.50,411.15 309.39,414.87 311.34,408.86 306.23,405.14 312.55,405.14" fill="#fff" stroke="#FF8000" stroke-width="1.5" stroke-linejoin="miter" stroke-miterlimit="3"/><polygon points="274.50,308.83 276.45,314.84 282.77,314.84 277.66,318.56 279.61,324.57 274.50,320.85 269.39,324.57 271.34,318.56 266.23,314.84 272.55,314.84" fill="#fff" stroke="#FF8000" stroke-width="1.5" stroke-linejoin="miter" stroke-miterlimit="3"/><polygon points="283.60,312.63 285.55,318.64 291.87,318.64 286.76,322.36 288.71,328.37 283.60,324.65 278.49,328.37 280.44,322.36 275.33,318.64 281.65,318.64" fill="#fff" stroke="#FF8000" stroke-width="1.5" stroke-linejoin="miter" stroke-miterlimit="3"/><polygon points="282.70,342.13 284.65,348.14 290.97,348.14 285.86,351.86 287.81,357.87 282.70,354.15 277.59,357.87 279.54,351.86 274.43,348.14 280.75,348.14" fill="#fff" stroke="#FF8000" stroke-width="1.5" stroke-linejoin="miter" stroke-miterlimit="3"/><polygon points="290.90,393.63 292.85,399.64 299.17,399.64 294.06,403.36 296.01,409.37 290.90,405.65 285.79,409.37 287.74,403.36 282.63,399.64 288.95,399.64" fill="#fff" stroke="#FF8000" stroke-width="1.5" stroke-linejoin="miter" stroke-miterlimit="3"/><polygon points="354.40,341.13 356.35,347.14 362.67,347.14 357.56,350.86 359.51,356.87 354.40,353.15 349.29,356.87 351.24,350.86 346.13,347.14 352.45,347.14" fill="#fff" stroke="#FF8000" stroke-width="1.5" stroke-linejoin="miter" stroke-miterlimit="3"/><polygon points="354.40,355.33 356.35,361.34 362.67,361.34 357.56,365.06 359.51,371.07 354.40,367.35 349.29,371.07 351.24,365.06 346.13,361.34 352.45,361.34" fill="#fff" stroke="#FF8000" stroke-width="1.5" stroke-linejoin="miter" stroke-miterlimit="3"/><polygon points="362.00,274.13 363.95,280.14 370.27,280.14 365.16,283.86 367.11,289.87 362.00,286.15 356.89,289.87 358.84,283.86 353.73,280.14 360.05,280.14" fill="#fff" stroke="#FF8000" stroke-width="1.5" stroke-linejoin="miter" stroke-miterlimit="3"/><polygon points="393.40,305.73 395.35,311.74 401.67,311.74 396.56,315.46 398.51,321.47 393.40,317.75 388.29,321.47 390.24,315.46 385.13,311.74 391.45,311.74" fill="#fff" stroke="#FF8000" stroke-width="1.5" stroke-linejoin="miter" stroke-miterlimit="3"/><polygon points="393.40,321.43 395.35,327.44 401.67,327.44 396.56,331.16 398.51,337.17 393.40,333.45 388.29,337.17 390.24,331.16 385.13,327.44 391.45,327.44" fill="#fff" stroke="#FF8000" stroke-width="1.5" stroke-linejoin="miter" stroke-miterlimit="3"/><polygon points="394.01,337.13 395.97,343.14 402.29,343.14 397.18,346.86 399.13,352.87 394.01,349.15 388.90,352.87 390.85,346.86 385.74,343.14 392.06,343.14" fill="#fff" stroke="#FF8000" stroke-width="1.5" stroke-linejoin="miter" stroke-miterlimit="3"/><polygon points="394.61,342.06 396.56,348.08 402.88,348.08 397.77,351.79 399.72,357.80 394.61,354.09 389.50,357.80 391.45,351.79 386.33,348.08 392.66,348.08" fill="#fff" stroke="#FF8000" stroke-width="1.5" stroke-linejoin="miter" stroke-miterlimit="3"/><polygon points="394.88,347.00 396.83,353.01 403.15,353.01 398.04,356.72 399.99,362.74 394.88,359.02 389.76,362.74 391.72,356.72 386.60,353.01 392.92,353.01" fill="#fff" stroke="#FF8000" stroke-width="1.5" stroke-linejoin="miter" stroke-miterlimit="3"/><polygon points="395.61,351.93 397.57,357.94 403.89,357.94 398.77,361.66 400.73,367.67 395.61,363.95 390.50,367.67 392.45,361.66 387.34,357.94 393.66,357.94" fill="#fff" stroke="#FF8000" stroke-width="1.5" stroke-linejoin="miter" stroke-miterlimit="3"/><polygon points="394.60,356.86 396.55,362.88 402.87,362.88 397.76,366.59 399.71,372.60 394.60,368.89 389.49,372.60 391.44,366.59 386.33,362.88 392.65,362.88" fill="#fff" stroke="#FF8000" stroke-width="1.5" stroke-linejoin="miter" stroke-miterlimit="3"/><polygon points="395.51,361.80 397.47,367.81 403.79,367.81 398.67,371.52 400.63,377.54 395.51,373.82 390.40,377.54 392.35,371.52 387.24,367.81 393.56,367.81" fill="#fff" stroke="#FF8000" stroke-width="1.5" stroke-linejoin="miter" stroke-miterlimit="3"/><polygon points="391.05,366.73 393.00,372.74 399.32,372.74 394.21,376.46 396.16,382.47 391.05,378.75 385.93,382.47 387.88,376.46 382.77,372.74 389.09,372.74" fill="#fff" stroke="#FF8000" stroke-width="1.5" stroke-linejoin="miter" stroke-miterlimit="3"/><polygon points="393.23,371.66 395.18,377.68 401.50,377.68 396.39,381.39 398.34,387.40 393.23,383.69 388.11,387.40 390.07,381.39 384.95,377.68 391.27,377.68" fill="#fff" stroke="#FF8000" stroke-width="1.5" stroke-linejoin="miter" stroke-miterlimit="3"/><polygon points="395.62,376.60 397.57,382.61 403.89,382.61 398.78,386.32 400.73,392.34 395.62,388.62 390.50,392.34 392.46,386.32 387.34,382.61 393.66,382.61" fill="#fff" stroke="#FF8000" stroke-width="1.5" stroke-linejoin="miter" stroke-miterlimit="3"/><polygon points="394.14,381.53 396.10,387.54 402.42,387.54 397.31,391.26 399.26,397.27 394.14,393.55 389.03,397.27 390.98,391.26 385.87,387.54 392.19,387.54" fill="#fff" stroke="#FF8000" stroke-width="1.5" stroke-linejoin="miter" stroke-miterlimit="3"/><polygon points="395.40,386.46 397.36,392.48 403.68,392.48 398.57,396.19 400.52,402.20 395.40,398.49 390.29,402.20 392.24,396.19 387.13,392.48 393.45,392.48" fill="#fff" stroke="#FF8000" stroke-width="1.5" stroke-linejoin="miter" stroke-miterlimit="3"/><polygon points="391.47,391.40 393.42,397.41 399.74,397.41 394.63,401.12 396.58,407.14 391.47,403.42 386.35,407.14 388.31,401.12 383.19,397.41 389.51,397.41" fill="#fff" stroke="#FF8000" stroke-width="1.5" stroke-linejoin="miter" stroke-miterlimit="3"/><polygon points="393.25,396.33 395.20,402.34 401.52,402.34 396.41,406.06 398.36,412.07 393.25,408.35 388.13,412.07 390.08,406.06 384.97,402.34 391.29,402.34" fill="#fff" stroke="#FF8000" stroke-width="1.5" stroke-linejoin="miter" stroke-miterlimit="3"/><polygon points="392.13,401.26 394.09,407.28 400.41,407.28 395.29,410.99 397.25,417.00 392.13,413.29 387.02,417.00 388.97,410.99 383.86,407.28 390.18,407.28" fill="#fff" stroke="#FF8000" stroke-width="1.5" stroke-linejoin="miter" stroke-miterlimit="3"/><polygon points="393.62,406.20 395.57,412.21 401.89,412.21 396.78,415.92 398.73,421.94 393.62,418.22 388.51,421.94 390.46,415.92 385.34,412.21 391.67,412.21" fill="#fff" stroke="#FF8000" stroke-width="1.5" stroke-linejoin="miter" stroke-miterlimit="3"/><polygon points="393.77,411.13 395.72,417.14 402.04,417.14 396.93,420.86 398.88,426.87 393.77,423.15 388.66,426.87 390.61,420.86 385.50,417.14 391.82,417.14" fill="#fff" stroke="#FF8000" stroke-width="1.5" stroke-linejoin="miter" stroke-miterlimit="3"/><polygon points="387.00,362.13 388.95,368.14 395.27,368.14 390.16,371.86 392.11,377.87 387.00,374.15 381.89,377.87 383.84,371.86 378.73,368.14 385.05,368.14" fill="#fff" stroke="#FF8000" stroke-width="1.5" stroke-linejoin="miter" stroke-miterlimit="3"/><polygon points="404.00,381.13 405.95,387.14 412.27,387.14 407.16,390.86 409.11,396.87 404.00,393.15 398.89,396.87 400.84,390.86 395.73,387.14 402.05,387.14" fill="#fff" stroke="#FF8000" stroke-width="1.5" stroke-linejoin="miter" stroke-miterlimit="3"/><polygon points="393.40,449.63 395.35,455.64 401.67,455.64 396.56,459.36 398.51,465.37 393.40,461.65 388.29,465.37 390.24,459.36 385.13,455.64 391.45,455.64" fill="#fff" stroke="#FF8000" stroke-width="1.5" stroke-linejoin="miter" stroke-miterlimit="3"/><polygon points="419.80,361.83 421.75,367.84 428.07,367.84 422.96,371.56 424.91,377.57 419.80,373.85 414.69,377.57 416.64,371.56 411.53,367.84 417.85,367.84" fill="#fff" stroke="#FF8000" stroke-width="1.5" stroke-linejoin="miter" stroke-miterlimit="3"/><polygon points="435.90,326.63 437.85,332.64 444.17,332.64 439.06,336.36 441.01,342.37 435.90,338.65 430.79,342.37 432.74,336.36 427.63,332.64 433.95,332.64" fill="#fff" stroke="#FF8000" stroke-width="1.5" stroke-linejoin="miter" stroke-miterlimit="3"/><polygon points="440.50,353.13 442.45,359.14 448.77,359.14 443.66,362.86 445.61,368.87 440.50,365.15 435.39,368.87 437.34,362.86 432.23,359.14 438.55,359.14" fill="#fff" stroke="#FF8000" stroke-width="1.5" stroke-linejoin="miter" stroke-miterlimit="3"/><polygon points="440.00,364.13 441.95,370.14 448.27,370.14 443.16,373.86 445.11,379.87 440.00,376.15 434.89,379.87 436.84,373.86 431.73,370.14 438.05,370.14" fill="#fff" stroke="#FF8000" stroke-width="1.5" stroke-linejoin="miter" stroke-miterlimit="3"/><polygon points="440.00,379.13 441.95,385.14 448.27,385.14 443.16,388.86 445.11,394.87 440.00,391.15 434.89,394.87 436.84,388.86 431.73,385.14 438.05,385.14" fill="#fff" stroke="#FF8000" stroke-width="1.5" stroke-linejoin="miter" stroke-miterlimit="3"/><polygon points="440.00,390.13 441.95,396.14 448.27,396.14 443.16,399.86 445.11,405.87 440.00,402.15 434.89,405.87 436.84,399.86 431.73,396.14 438.05,396.14" fill="#fff" stroke="#FF8000" stroke-width="1.5" stroke-linejoin="miter" stroke-miterlimit="3"/><polygon points="438.00,400.13 439.95,406.14 446.27,406.14 441.16,409.86 443.11,415.87 438.00,412.15 432.89,415.87 434.84,409.86 429.73,406.14 436.05,406.14" fill="#fff" stroke="#FF8000" stroke-width="1.5" stroke-linejoin="miter" stroke-miterlimit="3"/><polygon points="440.00,411.13 441.95,417.14 448.27,417.14 443.16,420.86 445.11,426.87 440.00,423.15 434.89,426.87 436.84,420.86 431.73,417.14 438.05,417.14" fill="#fff" stroke="#FF8000" stroke-width="1.5" stroke-linejoin="miter" stroke-miterlimit="3"/><polygon points="440.00,418.13 441.95,424.14 448.27,424.14 443.16,427.86 445.11,433.87 440.00,430.15 434.89,433.87 436.84,427.86 431.73,424.14 438.05,424.14" fill="#fff" stroke="#FF8000" stroke-width="1.5" stroke-linejoin="miter" stroke-miterlimit="3"/><polygon points="434.00,408.13 435.95,414.14 442.27,414.14 437.16,417.86 439.11,423.87 434.00,420.15 428.89,423.87 430.84,417.86 425.73,414.14 432.05,414.14" fill="#fff" stroke="#FF8000" stroke-width="1.5" stroke-linejoin="miter" stroke-miterlimit="3"/><polygon points="446.00,387.13 447.95,393.14 454.27,393.14 449.16,396.86 451.11,402.87 446.00,399.15 440.89,402.87 442.84,396.86 437.73,393.14 444.05,393.14" fill="#fff" stroke="#FF8000" stroke-width="1.5" stroke-linejoin="miter" stroke-miterlimit="3"/><polygon points="471.24,334.63 473.20,340.64 479.52,340.64 474.40,344.36 476.36,350.37 471.24,346.65 466.13,350.37 468.08,344.36 462.97,340.64 469.29,340.64" fill="#fff" stroke="#FF8000" stroke-width="1.5" stroke-linejoin="miter" stroke-miterlimit="3"/><polygon points="470.71,339.66 472.67,345.67 478.99,345.67 473.87,349.39 475.83,355.40 470.71,351.68 465.60,355.40 467.55,349.39 462.44,345.67 468.76,345.67" fill="#fff" stroke="#FF8000" stroke-width="1.5" stroke-linejoin="miter" stroke-miterlimit="3"/><polygon points="471.88,344.69 473.84,350.70 480.16,350.70 475.04,354.42 477.00,360.43 471.88,356.71 466.77,360.43 468.72,354.42 463.61,350.70 469.93,350.70" fill="#fff" stroke="#FF8000" stroke-width="1.5" stroke-linejoin="miter" stroke-miterlimit="3"/><polygon points="470.92,349.72 472.87,355.73 479.19,355.73 474.08,359.45 476.03,365.46 470.92,361.74 465.81,365.46 467.76,359.45 462.65,355.73 468.97,355.73" fill="#fff" stroke="#FF8000" stroke-width="1.5" stroke-linejoin="miter" stroke-miterlimit="3"/><polygon points="470.57,354.75 472.52,360.76 478.84,360.76 473.73,364.48 475.68,370.49 470.57,366.77 465.45,370.49 467.41,364.48 462.29,360.76 468.61,360.76" fill="#fff" stroke="#FF8000" stroke-width="1.5" stroke-linejoin="miter" stroke-miterlimit="3"/><polygon points="471.91,359.78 473.86,365.79 480.18,365.79 475.07,369.50 477.02,375.52 471.91,371.80 466.79,375.52 468.75,369.50 463.63,365.79 469.95,365.79" fill="#fff" stroke="#FF8000" stroke-width="1.5" stroke-linejoin="miter" stroke-miterlimit="3"/><polygon points="473.97,364.81 475.93,370.82 482.25,370.82 477.13,374.53 479.09,380.55 473.97,376.83 468.86,380.55 470.81,374.53 465.70,370.82 472.02,370.82" fill="#fff" stroke="#FF8000" stroke-width="1.5" stroke-linejoin="miter" stroke-miterlimit="3"/><polygon points="473.50,369.84 475.46,375.85 481.78,375.85 476.66,379.56 478.62,385.58 473.50,381.86 468.39,385.58 470.34,379.56 465.23,375.85 471.55,375.85" fill="#fff" stroke="#FF8000" stroke-width="1.5" stroke-linejoin="miter" stroke-miterlimit="3"/><polygon points="473.36,374.87 475.31,380.88 481.63,380.88 476.52,384.59 478.47,390.60 473.36,386.89 468.25,390.60 470.20,384.59 465.09,380.88 471.41,380.88" fill="#fff" stroke="#FF8000" stroke-width="1.5" stroke-linejoin="miter" stroke-miterlimit="3"/><polygon points="471.19,379.90 473.14,385.91 479.46,385.91 474.35,389.62 476.30,395.63 471.19,391.92 466.07,395.63 468.03,389.62 462.91,385.91 469.23,385.91" fill="#fff" stroke="#FF8000" stroke-width="1.5" stroke-linejoin="miter" stroke-miterlimit="3"/><polygon points="472.45,384.92 474.40,390.94 480.72,390.94 475.61,394.65 477.56,400.66 472.45,396.95 467.33,400.66 469.29,394.65 464.17,390.94 470.49,390.94" fill="#fff" stroke="#FF8000" stroke-width="1.5" stroke-linejoin="miter" stroke-miterlimit="3"/><polygon points="471.41,389.95 473.36,395.97 479.68,395.97 474.57,399.68 476.52,405.69 471.41,401.98 466.29,405.69 468.25,399.68 463.13,395.97 469.45,395.97" fill="#fff" stroke="#FF8000" stroke-width="1.5" stroke-linejoin="miter" stroke-miterlimit="3"/><polygon points="470.99,394.98 472.94,401.00 479.26,401.00 474.15,404.71 476.10,410.72 470.99,407.01 465.88,410.72 467.83,404.71 462.72,401.00 469.04,401.00" fill="#fff" stroke="#FF8000" stroke-width="1.5" stroke-linejoin="miter" stroke-miterlimit="3"/><polygon points="470.72,400.01 472.68,406.02 479.00,406.02 473.89,409.74 475.84,415.75 470.72,412.04 465.61,415.75 467.56,409.74 462.45,406.02 468.77,406.02" fill="#fff" stroke="#FF8000" stroke-width="1.5" stroke-linejoin="miter" stroke-miterlimit="3"/><polygon points="471.16,405.04 473.11,411.05 479.43,411.05 474.32,414.77 476.27,420.78 471.16,417.07 466.04,420.78 468.00,414.77 462.88,411.05 469.20,411.05" fill="#fff" stroke="#FF8000" stroke-width="1.5" stroke-linejoin="miter" stroke-miterlimit="3"/><polygon points="474.01,410.07 475.96,416.08 482.28,416.08 477.17,419.80 479.12,425.81 474.01,422.10 468.90,425.81 470.85,419.80 465.74,416.08 472.06,416.08" fill="#fff" stroke="#FF8000" stroke-width="1.5" stroke-linejoin="miter" stroke-miterlimit="3"/><polygon points="473.62,415.10 475.57,421.11 481.89,421.11 476.78,424.83 478.73,430.84 473.62,427.12 468.50,430.84 470.45,424.83 465.34,421.11 471.66,421.11" fill="#fff" stroke="#FF8000" stroke-width="1.5" stroke-linejoin="miter" stroke-miterlimit="3"/><polygon points="473.53,420.13 475.48,426.14 481.80,426.14 476.69,429.86 478.64,435.87 473.53,432.15 468.41,435.87 470.37,429.86 465.25,426.14 471.57,426.14" fill="#fff" stroke="#FF8000" stroke-width="1.5" stroke-linejoin="miter" stroke-miterlimit="3"/><polygon points="467.07,362.39 469.02,368.40 475.34,368.40 470.23,372.12 472.18,378.13 467.07,374.41 461.95,378.13 463.91,372.12 458.79,368.40 465.11,368.40" fill="#fff" stroke="#FF8000" stroke-width="1.5" stroke-linejoin="miter" stroke-miterlimit="3"/><polygon points="476.23,357.06 478.18,363.07 484.50,363.07 479.39,366.78 481.34,372.79 476.23,369.08 471.11,372.79 473.07,366.78 467.95,363.07 474.27,363.07" fill="#fff" stroke="#FF8000" stroke-width="1.5" stroke-linejoin="miter" stroke-miterlimit="3"/><polygon points="473.00,377.00 474.96,383.01 481.28,383.01 476.17,386.72 478.12,392.74 473.00,389.02 467.89,392.74 469.84,386.72 464.73,383.01 471.05,383.01" fill="#fff" stroke="#FF8000" stroke-width="1.5" stroke-linejoin="miter" stroke-miterlimit="3"/><polygon points="459.62,386.64 461.58,392.65 467.90,392.65 462.78,396.36 464.74,402.37 459.62,398.66 454.51,402.37 456.46,396.36 451.35,392.65 457.67,392.65" fill="#fff" stroke="#FF8000" stroke-width="1.5" stroke-linejoin="miter" stroke-miterlimit="3"/><polygon points="459.05,381.62 461.00,387.63 467.32,387.63 462.21,391.35 464.16,397.36 459.05,393.64 453.94,397.36 455.89,391.35 450.78,387.63 457.10,387.63" fill="#fff" stroke="#FF8000" stroke-width="1.5" stroke-linejoin="miter" stroke-miterlimit="3"/><polygon points="459.96,358.30 461.91,364.31 468.23,364.31 463.12,368.03 465.07,374.04 459.96,370.32 454.84,374.04 456.80,368.03 451.68,364.31 458.00,364.31" fill="#fff" stroke="#FF8000" stroke-width="1.5" stroke-linejoin="miter" stroke-miterlimit="3"/><polygon points="469.89,408.36 471.84,414.37 478.16,414.37 473.05,418.08 475.00,424.10 469.89,420.38 464.77,424.10 466.73,418.08 461.61,414.37 467.93,414.37" fill="#fff" stroke="#FF8000" stroke-width="1.5" stroke-linejoin="miter" stroke-miterlimit="3"/><polygon points="461.47,367.31 463.42,373.32 469.74,373.32 464.63,377.04 466.58,383.05 461.47,379.33 456.35,383.05 458.31,377.04 453.19,373.32 459.51,373.32" fill="#fff" stroke="#FF8000" stroke-width="1.5" stroke-linejoin="miter" stroke-miterlimit="3"/><polygon points="456.00,426.13 457.95,432.14 464.27,432.14 459.16,435.86 461.11,441.87 456.00,438.15 450.89,441.87 452.84,435.86 447.73,432.14 454.05,432.14" fill="#fff" stroke="#FF8000" stroke-width="1.5" stroke-linejoin="miter" stroke-miterlimit="3"/><polygon points="463.00,392.13 464.95,398.14 471.27,398.14 466.16,401.86 468.11,407.87 463.00,404.15 457.89,407.87 459.84,401.86 454.73,398.14 461.05,398.14" fill="#fff" stroke="#FF8000" stroke-width="1.5" stroke-linejoin="miter" stroke-miterlimit="3"/><polygon points="465.00,377.13 466.95,383.14 473.27,383.14 468.16,386.86 470.11,392.87 465.00,389.15 459.89,392.87 461.84,386.86 456.73,383.14 463.05,383.14" fill="#fff" stroke="#FF8000" stroke-width="1.5" stroke-linejoin="miter" stroke-miterlimit="3"/><polygon points="452.00,372.13 453.95,378.14 460.27,378.14 455.16,381.86 457.11,387.87 452.00,384.15 446.89,387.87 448.84,381.86 443.73,378.14 450.05,378.14" fill="#fff" stroke="#FF8000" stroke-width="1.5" stroke-linejoin="miter" stroke-miterlimit="3"/><polygon points="500.60,354.93 502.55,360.94 508.87,360.94 503.76,364.66 505.71,370.67 500.60,366.95 495.49,370.67 497.44,364.66 492.33,360.94 498.65,360.94" fill="#fff" stroke="#FF8000" stroke-width="1.5" stroke-linejoin="miter" stroke-miterlimit="3"/><polygon points="493.60,371.83 495.55,377.84 501.87,377.84 496.76,381.56 498.71,387.57 493.60,383.85 488.49,387.57 490.44,381.56 485.33,377.84 491.65,377.84" fill="#fff" stroke="#FF8000" stroke-width="1.5" stroke-linejoin="miter" stroke-miterlimit="3"/><polygon points="503.60,405.63 505.55,411.64 511.87,411.64 506.76,415.36 508.71,421.37 503.60,417.65 498.49,421.37 500.44,415.36 495.33,411.64 501.65,411.64" fill="#fff" stroke="#FF8000" stroke-width="1.5" stroke-linejoin="miter" stroke-miterlimit="3"/><polygon points="498.00,390.13 499.95,396.14 506.27,396.14 501.16,399.86 503.11,405.87 498.00,402.15 492.89,405.87 494.84,399.86 489.73,396.14 496.05,396.14" fill="#fff" stroke="#FF8000" stroke-width="1.5" stroke-linejoin="miter" stroke-miterlimit="3"/><polygon points="488.00,412.13 489.95,418.14 496.27,418.14 491.16,421.86 493.11,427.87 488.00,424.15 482.89,427.87 484.84,421.86 479.73,418.14 486.05,418.14" fill="#fff" stroke="#FF8000" stroke-width="1.5" stroke-linejoin="miter" stroke-miterlimit="3"/><polygon points="535.00,357.93 536.95,363.94 543.27,363.94 538.16,367.66 540.11,373.67 535.00,369.95 529.89,373.67 531.84,367.66 526.73,363.94 533.05,363.94" fill="#fff" stroke="#FF8000" stroke-width="1.5" stroke-linejoin="miter" stroke-miterlimit="3"/><polygon points="540.00,370.13 541.95,376.14 548.27,376.14 543.16,379.86 545.11,385.87 540.00,382.15 534.89,385.87 536.84,379.86 531.73,376.14 538.05,376.14" fill="#fff" stroke="#FF8000" stroke-width="1.5" stroke-linejoin="miter" stroke-miterlimit="3"/><polygon points="538.00,384.13 539.95,390.14 546.27,390.14 541.16,393.86 543.11,399.87 538.00,396.15 532.89,399.87 534.84,393.86 529.73,390.14 536.05,390.14" fill="#fff" stroke="#FF8000" stroke-width="1.5" stroke-linejoin="miter" stroke-miterlimit="3"/><polygon points="540.00,397.13 541.95,403.14 548.27,403.14 543.16,406.86 545.11,412.87 540.00,409.15 534.89,412.87 536.84,406.86 531.73,403.14 538.05,403.14" fill="#fff" stroke="#FF8000" stroke-width="1.5" stroke-linejoin="miter" stroke-miterlimit="3"/><polygon points="545.00,412.13 546.95,418.14 553.27,418.14 548.16,421.86 550.11,427.87 545.00,424.15 539.89,427.87 541.84,421.86 536.73,418.14 543.05,418.14" fill="#fff" stroke="#FF8000" stroke-width="1.5" stroke-linejoin="miter" stroke-miterlimit="3"/><polygon points="536.00,422.13 537.95,428.14 544.27,428.14 539.16,431.86 541.11,437.87 536.00,434.15 530.89,437.87 532.84,431.86 527.73,428.14 534.05,428.14" fill="#fff" stroke="#FF8000" stroke-width="1.5" stroke-linejoin="miter" stroke-miterlimit="3"/><polygon points="523.90,395.73 525.85,401.74 532.17,401.74 527.06,405.46 529.01,411.47 523.90,407.75 518.79,411.47 520.74,405.46 515.63,401.74 521.95,401.74" fill="#fff" stroke="#FF8000" stroke-width="1.5" stroke-linejoin="miter" stroke-miterlimit="3"/><polygon points="523.90,413.63 525.85,419.64 532.17,419.64 527.06,423.36 529.01,429.37 523.90,425.65 518.79,429.37 520.74,423.36 515.63,419.64 521.95,419.64" fill="#fff" stroke="#FF8000" stroke-width="1.5" stroke-linejoin="miter" stroke-miterlimit="3"/><polygon points="551.24,342.13 553.19,348.14 559.52,348.14 554.40,351.86 556.35,357.87 551.24,354.15 546.13,357.87 548.08,351.86 542.97,348.14 549.29,348.14" fill="#fff" stroke="#FF8000" stroke-width="1.5" stroke-linejoin="miter" stroke-miterlimit="3"/><polygon points="551.10,345.73 553.05,351.74 559.37,351.74 554.26,355.46 556.21,361.47 551.10,357.75 545.98,361.47 547.94,355.46 542.82,351.74 549.14,351.74" fill="#fff" stroke="#FF8000" stroke-width="1.5" stroke-linejoin="miter" stroke-miterlimit="3"/><polygon points="550.72,349.33 552.68,355.34 559.00,355.34 553.88,359.06 555.84,365.07 550.72,361.35 545.61,365.07 547.56,359.06 542.45,355.34 548.77,355.34" fill="#fff" stroke="#FF8000" stroke-width="1.5" stroke-linejoin="miter" stroke-miterlimit="3"/><polygon points="551.89,352.93 553.84,358.94 560.16,358.94 555.05,362.66 557.00,368.67 551.89,364.95 546.77,368.67 548.73,362.66 543.61,358.94 549.93,358.94" fill="#fff" stroke="#FF8000" stroke-width="1.5" stroke-linejoin="miter" stroke-miterlimit="3"/><polygon points="550.51,356.53 552.46,362.54 558.78,362.54 553.67,366.26 555.62,372.27 550.51,368.55 545.40,372.27 547.35,366.26 542.24,362.54 548.56,362.54" fill="#fff" stroke="#FF8000" stroke-width="1.5" stroke-linejoin="miter" stroke-miterlimit="3"/><polygon points="551.30,360.13 553.26,366.14 559.58,366.14 554.47,369.86 556.42,375.87 551.30,372.15 546.19,375.87 548.14,369.86 543.03,366.14 549.35,366.14" fill="#fff" stroke="#FF8000" stroke-width="1.5" stroke-linejoin="miter" stroke-miterlimit="3"/><polygon points="551.94,363.73 553.89,369.74 560.21,369.74 555.10,373.46 557.05,379.47 551.94,375.75 546.82,379.47 548.78,373.46 543.66,369.74 549.98,369.74" fill="#fff" stroke="#FF8000" stroke-width="1.5" stroke-linejoin="miter" stroke-miterlimit="3"/><polygon points="550.63,367.33 552.58,373.34 558.90,373.34 553.79,377.06 555.74,383.07 550.63,379.35 545.52,383.07 547.47,377.06 542.36,373.34 548.68,373.34" fill="#fff" stroke="#FF8000" stroke-width="1.5" stroke-linejoin="miter" stroke-miterlimit="3"/><polygon points="551.39,370.93 553.34,376.94 559.66,376.94 554.55,380.66 556.50,386.67 551.39,382.95 546.27,386.67 548.23,380.66 543.11,376.94 549.43,376.94" fill="#fff" stroke="#FF8000" stroke-width="1.5" stroke-linejoin="miter" stroke-miterlimit="3"/><polygon points="551.49,374.53 553.44,380.54 559.76,380.54 554.65,384.26 556.60,390.27 551.49,386.55 546.37,390.27 548.33,384.26 543.21,380.54 549.53,380.54" fill="#fff" stroke="#FF8000" stroke-width="1.5" stroke-linejoin="miter" stroke-miterlimit="3"/><polygon points="550.57,378.13 552.52,384.14 558.84,384.14 553.73,387.86 555.68,393.87 550.57,390.15 545.45,393.87 547.40,387.86 542.29,384.14 548.61,384.14" fill="#fff" stroke="#FF8000" stroke-width="1.5" stroke-linejoin="miter" stroke-miterlimit="3"/><polygon points="551.11,381.73 553.06,387.74 559.38,387.74 554.27,391.46 556.22,397.47 551.11,393.75 545.99,397.47 547.95,391.46 542.83,387.74 549.15,387.74" fill="#fff" stroke="#FF8000" stroke-width="1.5" stroke-linejoin="miter" stroke-miterlimit="3"/><polygon points="551.63,385.33 553.58,391.34 559.90,391.34 554.79,395.06 556.74,401.07 551.63,397.35 546.51,401.07 548.46,395.06 543.35,391.34 549.67,391.34" fill="#fff" stroke="#FF8000" stroke-width="1.5" stroke-linejoin="miter" stroke-miterlimit="3"/><polygon points="551.22,388.93 553.18,394.94 559.50,394.94 554.38,398.66 556.34,404.67 551.22,400.95 546.11,404.67 548.06,398.66 542.95,394.94 549.27,394.94" fill="#fff" stroke="#FF8000" stroke-width="1.5" stroke-linejoin="miter" stroke-miterlimit="3"/><polygon points="551.66,392.53 553.61,398.54 559.93,398.54 554.82,402.26 556.77,408.27 551.66,404.55 546.55,408.27 548.50,402.26 543.39,398.54 549.71,398.54" fill="#fff" stroke="#FF8000" stroke-width="1.5" stroke-linejoin="miter" stroke-miterlimit="3"/><polygon points="550.75,396.13 552.70,402.14 559.03,402.14 553.91,405.86 555.87,411.87 550.75,408.15 545.64,411.87 547.59,405.86 542.48,402.14 548.80,402.14" fill="#fff" stroke="#FF8000" stroke-width="1.5" stroke-linejoin="miter" stroke-miterlimit="3"/><polygon points="550.88,399.73 552.83,405.74 559.16,405.74 554.04,409.46 555.99,415.47 550.88,411.75 545.77,415.47 547.72,409.46 542.61,405.74 548.93,405.74" fill="#fff" stroke="#FF8000" stroke-width="1.5" stroke-linejoin="miter" stroke-miterlimit="3"/><polygon points="550.68,403.33 552.63,409.34 558.95,409.34 553.84,413.06 555.79,419.07 550.68,415.35 545.56,419.07 547.52,413.06 542.40,409.34 548.72,409.34" fill="#fff" stroke="#FF8000" stroke-width="1.5" stroke-linejoin="miter" stroke-miterlimit="3"/><polygon points="551.31,406.93 553.26,412.94 559.58,412.94 554.47,416.66 556.42,422.67 551.31,418.95 546.20,422.67 548.15,416.66 543.04,412.94 549.36,412.94" fill="#fff" stroke="#FF8000" stroke-width="1.5" stroke-linejoin="miter" stroke-miterlimit="3"/><polygon points="551.98,410.53 553.93,416.54 560.25,416.54 555.14,420.26 557.09,426.27 551.98,422.55 546.86,426.27 548.82,420.26 543.70,416.54 550.02,416.54" fill="#fff" stroke="#FF8000" stroke-width="1.5" stroke-linejoin="miter" stroke-miterlimit="3"/><polygon points="551.44,414.13 553.40,420.14 559.72,420.14 554.61,423.86 556.56,429.87 551.44,426.15 546.33,429.87 548.28,423.86 543.17,420.14 549.49,420.14" fill="#fff" stroke="#FF8000" stroke-width="1.5" stroke-linejoin="miter" stroke-miterlimit="3"/><polygon points="551.74,417.73 553.69,423.74 560.01,423.74 554.90,427.46 556.85,433.47 551.74,429.75 546.63,433.47 548.58,427.46 543.46,423.74 549.79,423.74" fill="#fff" stroke="#FF8000" stroke-width="1.5" stroke-linejoin="miter" stroke-miterlimit="3"/><polygon points="551.11,421.33 553.07,427.34 559.39,427.34 554.27,431.06 556.23,437.07 551.11,433.35 546.00,437.07 547.95,431.06 542.84,427.34 549.16,427.34" fill="#fff" stroke="#FF8000" stroke-width="1.5" stroke-linejoin="miter" stroke-miterlimit="3"/><polygon points="551.69,424.93 553.65,430.94 559.97,430.94 554.85,434.66 556.81,440.67 551.69,436.95 546.58,440.67 548.53,434.66 543.42,430.94 549.74,430.94" fill="#fff" stroke="#FF8000" stroke-width="1.5" stroke-linejoin="miter" stroke-miterlimit="3"/><polygon points="550.66,428.53 552.62,434.54 558.94,434.54 553.82,438.26 555.78,444.27 550.66,440.55 545.55,444.27 547.50,438.26 542.39,434.54 548.71,434.54" fill="#fff" stroke="#FF8000" stroke-width="1.5" stroke-linejoin="miter" stroke-miterlimit="3"/><polygon points="550.97,432.13 552.92,438.14 559.24,438.14 554.13,441.86 556.08,447.87 550.97,444.15 545.85,447.87 547.81,441.86 542.69,438.14 549.01,438.14" fill="#fff" stroke="#FF8000" stroke-width="1.5" stroke-linejoin="miter" stroke-miterlimit="3"/><polygon points="540.43,396.91 542.38,402.92 548.70,402.92 543.59,406.64 545.54,412.65 540.43,408.94 535.31,412.65 537.27,406.64 532.15,402.92 538.48,402.92" fill="#fff" stroke="#FF8000" stroke-width="1.5" stroke-linejoin="miter" stroke-miterlimit="3"/><polygon points="546.09,389.38 548.04,395.39 554.36,395.39 549.25,399.11 551.20,405.12 546.09,401.41 540.98,405.12 542.93,399.11 537.82,395.39 544.14,395.39" fill="#fff" stroke="#FF8000" stroke-width="1.5" stroke-linejoin="miter" stroke-miterlimit="3"/><polygon points="541.09,399.12 543.05,405.13 549.37,405.13 544.25,408.85 546.21,414.86 541.09,411.15 535.98,414.86 537.93,408.85 532.82,405.13 539.14,405.13" fill="#fff" stroke="#FF8000" stroke-width="1.5" stroke-linejoin="miter" stroke-miterlimit="3"/><polygon points="537.22,393.08 539.17,399.09 545.49,399.10 540.38,402.81 542.33,408.82 537.22,405.11 532.10,408.82 534.06,402.81 528.94,399.10 535.26,399.09" fill="#fff" stroke="#FF8000" stroke-width="1.5" stroke-linejoin="miter" stroke-miterlimit="3"/><polygon points="542.56,415.57 544.51,421.58 550.83,421.58 545.72,425.30 547.67,431.31 542.56,427.59 537.44,431.31 539.40,425.30 534.28,421.58 540.61,421.58" fill="#fff" stroke="#FF8000" stroke-width="1.5" stroke-linejoin="miter" stroke-miterlimit="3"/><polygon points="536.13,376.40 538.08,382.41 544.40,382.41 539.29,386.13 541.24,392.14 536.13,388.43 531.02,392.14 532.97,386.13 527.86,382.41 534.18,382.41" fill="#fff" stroke="#FF8000" stroke-width="1.5" stroke-linejoin="miter" stroke-miterlimit="3"/><polygon points="536.09,416.90 538.04,422.91 544.36,422.91 539.25,426.63 541.20,432.64 536.09,428.93 530.97,432.64 532.93,426.63 527.81,422.91 534.13,422.91" fill="#fff" stroke="#FF8000" stroke-width="1.5" stroke-linejoin="miter" stroke-miterlimit="3"/><polygon points="543.32,355.48 545.27,361.49 551.60,361.49 546.48,365.21 548.43,371.22 543.32,367.50 538.21,371.22 540.16,365.21 535.05,361.49 541.37,361.49" fill="#fff" stroke="#FF8000" stroke-width="1.5" stroke-linejoin="miter" stroke-miterlimit="3"/><polygon points="546.79,429.31 548.74,435.32 555.06,435.32 549.95,439.04 551.90,445.05 546.79,441.33 541.67,445.05 543.63,439.04 538.51,435.32 544.83,435.32" fill="#fff" stroke="#FF8000" stroke-width="1.5" stroke-linejoin="miter" stroke-miterlimit="3"/><polygon points="542.85,401.38 544.80,407.39 551.12,407.39 546.01,411.10 547.96,417.11 542.85,413.40 537.73,417.11 539.69,411.10 534.57,407.39 540.89,407.39" fill="#fff" stroke="#FF8000" stroke-width="1.5" stroke-linejoin="miter" stroke-miterlimit="3"/><polygon points="600.00,333.13 601.95,339.14 608.27,339.14 603.16,342.86 605.11,348.87 600.00,345.15 594.89,348.87 596.84,342.86 591.73,339.14 598.05,339.14" fill="#fff" stroke="#FF8000" stroke-width="1.5" stroke-linejoin="miter" stroke-miterlimit="3"/><polygon points="600.00,356.83 601.95,362.84 608.27,362.84 603.16,366.56 605.11,372.57 600.00,368.85 594.89,372.57 596.84,366.56 591.73,362.84 598.05,362.84" fill="#fff" stroke="#FF8000" stroke-width="1.5" stroke-linejoin="miter" stroke-miterlimit="3"/><polygon points="566.70,365.83 568.65,371.84 574.97,371.84 569.86,375.56 571.81,381.57 566.70,377.85 561.59,381.57 563.54,375.56 558.43,371.84 564.75,371.84" fill="#fff" stroke="#FF8000" stroke-width="1.5" stroke-linejoin="miter" stroke-miterlimit="3"/><polygon points="566.70,386.73 568.65,392.74 574.97,392.74 569.86,396.46 571.81,402.47 566.70,398.75 561.59,402.47 563.54,396.46 558.43,392.74 564.75,392.74" fill="#fff" stroke="#FF8000" stroke-width="1.5" stroke-linejoin="miter" stroke-miterlimit="3"/><polygon points="567.70,397.73 569.65,403.74 575.97,403.74 570.86,407.46 572.81,413.47 567.70,409.75 562.59,413.47 564.54,407.46 559.43,403.74 565.75,403.74" fill="#fff" stroke="#FF8000" stroke-width="1.5" stroke-linejoin="miter" stroke-miterlimit="3"/><polygon points="582.60,409.63 584.55,415.64 590.87,415.64 585.76,419.36 587.71,425.37 582.60,421.65 577.49,425.37 579.44,419.36 574.33,415.64 580.65,415.64" fill="#fff" stroke="#FF8000" stroke-width="1.5" stroke-linejoin="miter" stroke-miterlimit="3"/><polygon points="599.50,417.63 601.45,423.64 607.77,423.64 602.66,427.36 604.61,433.37 599.50,429.65 594.39,433.37 596.34,427.36 591.23,423.64 597.55,423.64" fill="#fff" stroke="#FF8000" stroke-width="1.5" stroke-linejoin="miter" stroke-miterlimit="3"/><polygon points="611.40,401.73 613.35,407.74 619.67,407.74 614.56,411.46 616.51,417.47 611.40,413.75 606.29,417.47 608.24,411.46 603.13,407.74 609.45,407.74" fill="#fff" stroke="#FF8000" stroke-width="1.5" stroke-linejoin="miter" stroke-miterlimit="3"/><polygon points="610.40,417.63 612.35,423.64 618.67,423.64 613.56,427.36 615.51,433.37 610.40,429.65 605.29,433.37 607.24,427.36 602.13,423.64 608.45,423.64" fill="#fff" stroke="#FF8000" stroke-width="1.5" stroke-linejoin="miter" stroke-miterlimit="3"/><polygon points="593.50,425.53 595.45,431.54 601.77,431.54 596.66,435.26 598.61,441.27 593.50,437.55 588.39,441.27 590.34,435.26 585.23,431.54 591.55,431.54" fill="#fff" stroke="#FF8000" stroke-width="1.5" stroke-linejoin="miter" stroke-miterlimit="3"/><polygon points="551.40,428.13 553.35,434.14 559.67,434.14 554.56,437.86 556.51,443.87 551.40,440.15 546.29,443.87 548.24,437.86 543.13,434.14 549.45,434.14" fill="#fff" stroke="#FF8000" stroke-width="1.5" stroke-linejoin="miter" stroke-miterlimit="3"/><polygon points="539.80,422.83 541.75,428.84 548.07,428.84 542.96,432.56 544.91,438.57 539.80,434.85 534.69,438.57 536.64,432.56 531.53,428.84 537.85,428.84" fill="#fff" stroke="#FF8000" stroke-width="1.5" stroke-linejoin="miter" stroke-miterlimit="3"/><polygon points="581.20,421.13 583.15,427.14 589.47,427.14 584.36,430.86 586.31,436.87 581.20,433.15 576.09,436.87 578.04,430.86 572.93,427.14 579.25,427.14" fill="#fff" stroke="#FF8000" stroke-width="1.5" stroke-linejoin="miter" stroke-miterlimit="3"/><polygon points="589.50,422.83 591.45,428.84 597.77,428.84 592.66,432.56 594.61,438.57 589.50,434.85 584.39,438.57 586.34,432.56 581.23,428.84 587.55,428.84" fill="#fff" stroke="#FF8000" stroke-width="1.5" stroke-linejoin="miter" stroke-miterlimit="3"/><polygon points="599.50,429.43 601.45,435.44 607.77,435.44 602.66,439.16 604.61,445.17 599.50,441.45 594.39,445.17 596.34,439.16 591.23,435.44 597.55,435.44" fill="#fff" stroke="#FF8000" stroke-width="1.5" stroke-linejoin="miter" stroke-miterlimit="3"/><polygon points="630.00,399.13 631.95,405.14 638.27,405.14 633.16,408.86 635.11,414.87 630.00,411.15 624.89,414.87 626.84,408.86 621.73,405.14 628.05,405.14" fill="#fff" stroke="#FF8000" stroke-width="1.5" stroke-linejoin="miter" stroke-miterlimit="3"/><polygon points="630.00,405.13 631.95,411.14 638.27,411.14 633.16,414.86 635.11,420.87 630.00,417.15 624.89,420.87 626.84,414.86 621.73,411.14 628.05,411.14" fill="#fff" stroke="#FF8000" stroke-width="1.5" stroke-linejoin="miter" stroke-miterlimit="3"/><polygon points="630.00,411.13 631.95,417.14 638.27,417.14 633.16,420.86 635.11,426.87 630.00,423.15 624.89,426.87 626.84,420.86 621.73,417.14 628.05,417.14" fill="#fff" stroke="#FF8000" stroke-width="1.5" stroke-linejoin="miter" stroke-miterlimit="3"/><polygon points="630.00,417.13 631.95,423.14 638.27,423.14 633.16,426.86 635.11,432.87 630.00,429.15 624.89,432.87 626.84,426.86 621.73,423.14 628.05,423.14" fill="#fff" stroke="#FF8000" stroke-width="1.5" stroke-linejoin="miter" stroke-miterlimit="3"/><polygon points="630.00,423.13 631.95,429.14 638.27,429.14 633.16,432.86 635.11,438.87 630.00,435.15 624.89,438.87 626.84,432.86 621.73,429.14 628.05,429.14" fill="#fff" stroke="#FF8000" stroke-width="1.5" stroke-linejoin="miter" stroke-miterlimit="3"/><polygon points="630.00,429.13 631.95,435.14 638.27,435.14 633.16,438.86 635.11,444.87 630.00,441.15 624.89,444.87 626.84,438.86 621.73,435.14 628.05,435.14" fill="#fff" stroke="#FF8000" stroke-width="1.5" stroke-linejoin="miter" stroke-miterlimit="3"/><polygon points="708.50,404.63 710.45,410.64 716.77,410.64 711.66,414.36 713.61,420.37 708.50,416.65 703.39,420.37 705.34,414.36 700.23,410.64 706.55,410.64" fill="#fff" stroke="#FF8000" stroke-width="1.5" stroke-linejoin="miter" stroke-miterlimit="3"/><polygon points="708.50,419.63 710.45,425.64 716.77,425.64 711.66,429.36 713.61,435.37 708.50,431.65 703.39,435.37 705.34,429.36 700.23,425.64 706.55,425.64" fill="#fff" stroke="#FF8000" stroke-width="1.5" stroke-linejoin="miter" stroke-miterlimit="3"/><polygon points="709.00,435.53 710.95,441.54 717.27,441.54 712.16,445.26 714.11,451.27 709.00,447.55 703.89,451.27 705.84,445.26 700.73,441.54 707.05,441.54" fill="#fff" stroke="#FF8000" stroke-width="1.5" stroke-linejoin="miter" stroke-miterlimit="3"/><polygon points="769.30,408.13 771.25,414.14 777.57,414.14 772.46,417.86 774.41,423.87 769.30,420.15 764.19,423.87 766.14,417.86 761.03,414.14 767.35,414.14" fill="#fff" stroke="#FF8000" stroke-width="1.5" stroke-linejoin="miter" stroke-miterlimit="3"/><polygon points="769.30,412.13 771.25,418.14 777.57,418.14 772.46,421.86 774.41,427.87 769.30,424.15 764.19,427.87 766.14,421.86 761.03,418.14 767.35,418.14" fill="#fff" stroke="#FF8000" stroke-width="1.5" stroke-linejoin="miter" stroke-miterlimit="3"/><polygon points="840.00,407.33 841.95,413.34 848.27,413.34 843.16,417.06 845.11,423.07 840.00,419.35 834.89,423.07 836.84,417.06 831.73,413.34 838.05,413.34" fill="#fff" stroke="#FF8000" stroke-width="1.5" stroke-linejoin="miter" stroke-miterlimit="3"/><polygon points="945.50,435.63 947.45,441.64 953.77,441.64 948.66,445.36 950.61,451.37 945.50,447.65 940.39,451.37 942.34,445.36 937.23,441.64 943.55,441.64" fill="#fff" stroke="#FF8000" stroke-width="1.5" stroke-linejoin="miter" stroke-miterlimit="3"/></g>
<path d="M156.80,503.0v-12M235.68,503.0v-12M314.56,503.0v-12M393.44,503.0v-12M472.32,503.0v-12M551.20,503.0v-12M630.08,503.0v-12M708.96,503.0v-12M787.84,503.0v-12M866.72,503.0v-12M945.60,503.0v-12M196.24,503.0v-6.5M275.12,503.0v-6.5M354.00,503.0v-6.5M432.88,503.0v-6.5M511.76,503.0v-6.5M590.64,503.0v-6.5M669.52,503.0v-6.5M748.40,503.0v-6.5M827.28,503.0v-6.5M906.16,503.0v-6.5M125.6,503.00h12M125.6,411.85h12M125.6,320.70h12M125.6,229.55h12M125.6,138.40h12M125.6,47.25h12M125.6,457.43h6.5M125.6,366.27h6.5M125.6,275.12h6.5M125.6,183.97h6.5M125.6,92.82h6.5" stroke="#000" stroke-width="2.6" fill="none"/>
<rect x="125.60" y="1.00" width="836.20" height="502.00" fill="none" stroke="#000" stroke-width="2.8"/>
<rect x="562.1" y="9" width="393.3" height="208.7" fill="#fff" stroke="#333" stroke-width="1.6"/><polygon points="604.00,23.63 605.95,29.64 612.27,29.64 607.16,33.36 609.11,39.37 604.00,35.65 598.89,39.37 600.84,33.36 595.73,29.64 602.05,29.64" fill="#fff" stroke="#FF8000" stroke-width="1.5" stroke-linejoin="miter" stroke-miterlimit="3"/><g opacity="1"><path d="M604.00,62.95L612.50,77.65L595.50,77.65Z" fill="#fff" stroke="#2E9A2E" stroke-width="1.5"/><path d="M604.00,62.95L612.50,77.65L604.00,77.65Z" fill="#3FA53F"/><path d="M604.00,62.95V77.65" stroke="#2E9A2E" stroke-width="1.2"/></g><g opacity="1"><path d="M604.00,122.95L595.50,108.25L612.50,108.25Z" fill="#fff" stroke="#FF3C3C" stroke-width="1.5"/><path d="M604.00,122.95L595.50,108.25L604.00,108.25Z" fill="#FF3C3C"/><path d="M604.00,108.25V122.95" stroke="#FF3C3C" stroke-width="1.2"/></g><g opacity="1"><circle cx="604.00" cy="153.60" r="7.6" fill="#fff" stroke="#000" stroke-width="1.5"/><path d="M604.00,146.00A7.6,7.6 0 0 1 604.00,161.20Z" fill="#000"/></g><g opacity="1"><rect x="597.60" y="187.40" width="12.8" height="12.8" fill="#fff" stroke="#0000FF" stroke-width="1.5"/><rect x="604.00" y="187.40" width="6.40" height="12.8" fill="#0000FF"/></g><text x="649.5" y="44.1" font-size="32.7">Hook-end wire</text><text x="649.5" y="84.3" font-size="32.7">Straight wire</text><text x="649.5" y="124.5" font-size="32.7">Crimped/indented wire</text><text x="649.5" y="164.7" font-size="32.7">Deformed cut sheet</text><text x="649.5" y="204.9" font-size="32.7">Ingot mill</text>
<g font-size="40" fill="#000"><text transform="translate(156.80,546.3) scale(0.965,1)" text-anchor="middle">1.0</text><text transform="translate(235.68,546.3) scale(0.965,1)" text-anchor="middle">1.5</text><text transform="translate(314.56,546.3) scale(0.965,1)" text-anchor="middle">2.0</text><text transform="translate(393.44,546.3) scale(0.965,1)" text-anchor="middle">2.5</text><text transform="translate(472.32,546.3) scale(0.965,1)" text-anchor="middle">3.0</text><text transform="translate(551.20,546.3) scale(0.965,1)" text-anchor="middle">3.5</text><text transform="translate(630.08,546.3) scale(0.965,1)" text-anchor="middle">4.0</text><text transform="translate(708.96,546.3) scale(0.965,1)" text-anchor="middle">4.5</text><text transform="translate(787.84,546.3) scale(0.965,1)" text-anchor="middle">5.0</text><text transform="translate(866.72,546.3) scale(0.965,1)" text-anchor="middle">5.5</text><text transform="translate(945.60,546.3) scale(0.965,1)" text-anchor="middle">6.0</text><text transform="translate(112,515.25) scale(0.965,1)" text-anchor="end">0.0</text><text transform="translate(112,424.10) scale(0.965,1)" text-anchor="end">0.5</text><text transform="translate(112,332.95) scale(0.965,1)" text-anchor="end">1.0</text><text transform="translate(112,241.80) scale(0.965,1)" text-anchor="end">1.5</text><text transform="translate(112,150.65) scale(0.965,1)" text-anchor="end">2.0</text><text transform="translate(112,59.50) scale(0.965,1)" text-anchor="end">2.5</text></g>
<text transform="translate(491.7,604.3) scale(1.2,1)" font-size="47" font-style="italic">&#955;</text>
<g transform="translate(33.8,379.5) rotate(-90)" fill="#000"><text x="-2.3" y="0" font-size="36" font-style="italic">V</text><text x="18.2" y="10.8" font-size="31">uc,t</text><text x="75.5" y="0" font-size="49">/</text><text x="87.4" y="0" font-size="49">(</text><text transform="translate(103.7,0) scale(1.2,1)" font-size="46" font-style="italic">&#946;</text><text x="127.2" y="13.8" font-size="29">&#961;</text><text transform="translate(154.4,0) scale(1.2,1)" font-size="46" font-style="italic">&#946;</text><text x="174" y="13.9" font-size="26">f</text><text x="187.5" y="0" font-size="49" font-style="italic">b</text><text x="209" y="0" font-size="49" font-style="italic">d</text><text x="232.1" y="0" font-size="49">)</text></g>
</svg></body></html>
